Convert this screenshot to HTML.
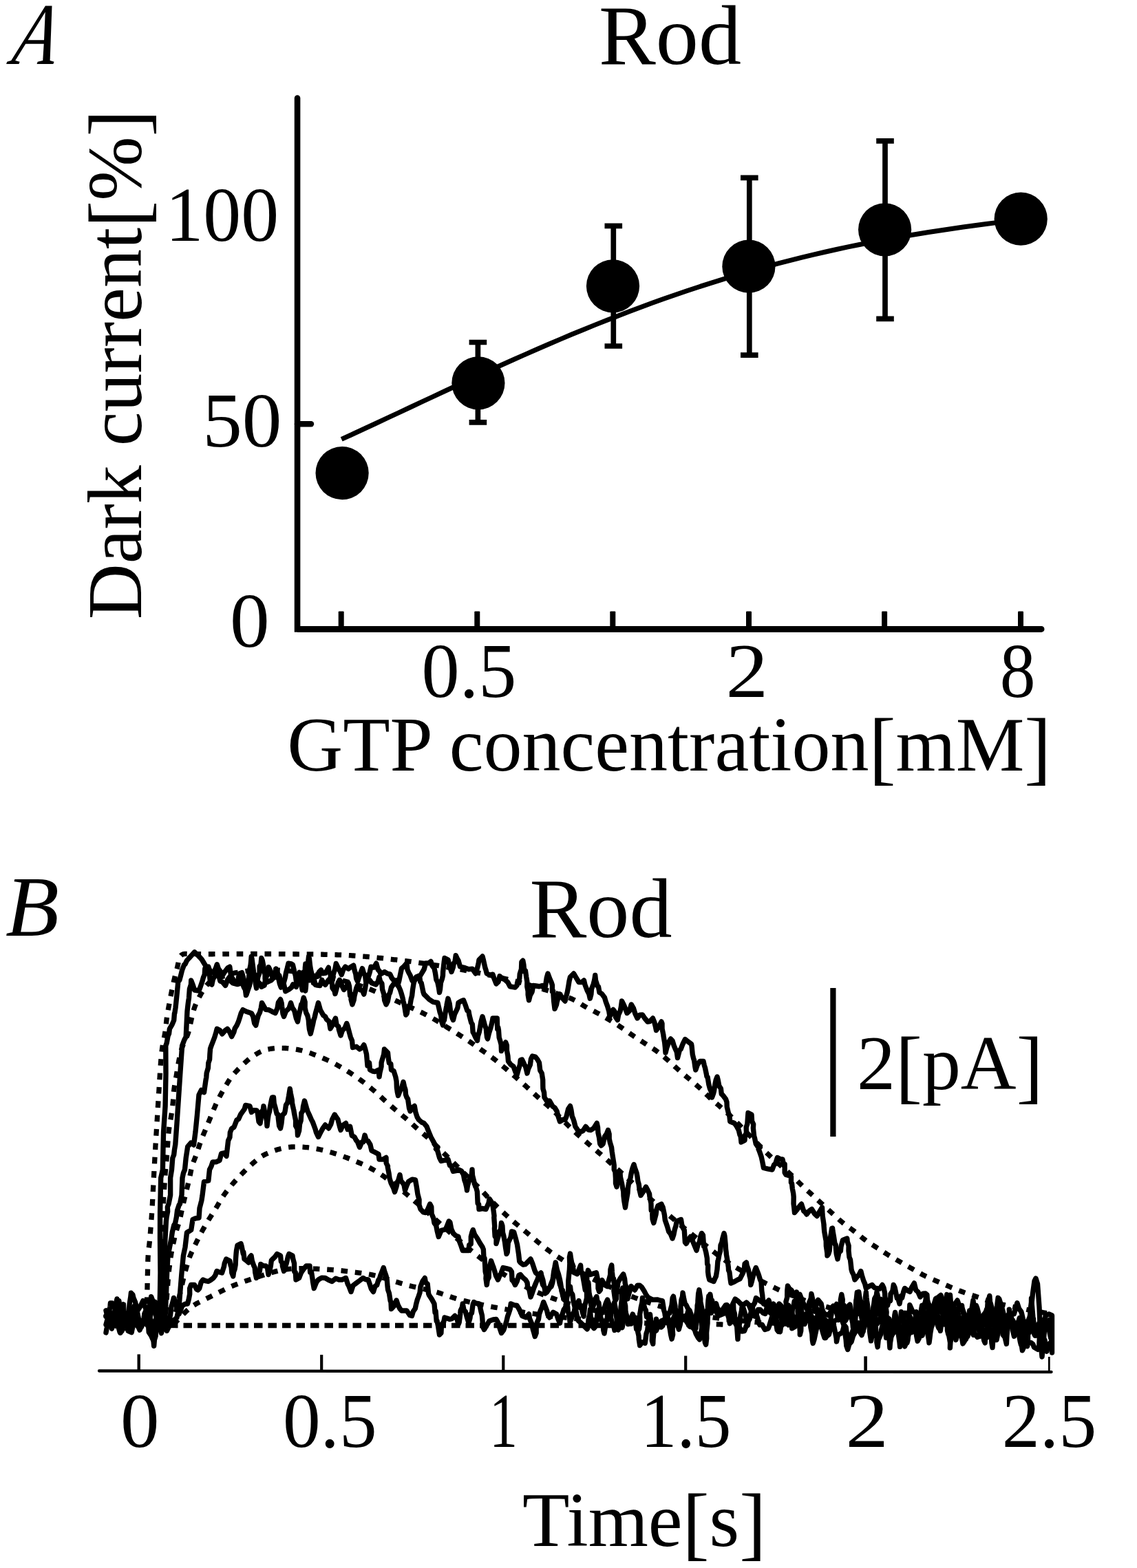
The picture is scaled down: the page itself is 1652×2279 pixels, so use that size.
<!DOCTYPE html>
<html lang="en"><head><meta charset="utf-8"><title>Rod dark current and light responses</title>
<style>html,body{margin:0;padding:0;background:#fff}body{width:1652px;height:2279px;overflow:hidden}svg{display:block}</style>
</head><body>
<svg width="1652" height="2279" viewBox="0 0 1652 2279" role="img" aria-label="Rod dark current versus GTP concentration, and rod flash responses over time">
<rect width="1652" height="2279" fill="#fff"/>
<g id="panelA" stroke="#000" fill="none">
<path d="M432.05 142.5 V914.4 H1513.2" stroke-width="8.6" stroke-linecap="round" stroke-linejoin="miter"/>
<line x1="432" y1="914.4" x2="1513.5" y2="914.4" stroke-width="9"/>
<line x1="432" y1="616.2" x2="452" y2="616.2" stroke-width="8.4" stroke-linecap="round"/>
<path d="M491.7 914 V889.6 Q491.7 888.4 492.9 888.4 H498.5 Q499.7 888.4 499.7 889.6 V914 Z" fill="#000" stroke="none"/>
<path d="M689.3 914 V889.6 Q689.3 888.4 690.5 888.4 H696.0999999999999 Q697.3 888.4 697.3 889.6 V914 Z" fill="#000" stroke="none"/>
<path d="M886.3 914 V889.6 Q886.3 888.4 887.5 888.4 H893.0999999999999 Q894.3 888.4 894.3 889.6 V914 Z" fill="#000" stroke="none"/>
<path d="M1084 914 V889.6 Q1084 888.4 1085.2 888.4 H1090.8 Q1092 888.4 1092 889.6 V914 Z" fill="#000" stroke="none"/>
<path d="M1281.1 914 V889.6 Q1281.1 888.4 1282.3 888.4 H1287.8999999999999 Q1289.1 888.4 1289.1 889.6 V914 Z" fill="#000" stroke="none"/>
<path d="M1479 914 V889.6 Q1479 888.4 1480.2 888.4 H1485.8 Q1487 888.4 1487 889.6 V914 Z" fill="#000" stroke="none"/>
<path d="M496.2 638.44 L512.93 630.77 L529.65 623.04 L546.38 615.26 L563.1 607.45 L579.83 599.62 L596.55 591.77 L613.28 583.92 L630 576.08 L646.73 568.26 L663.45 560.47 L680.18 552.72 L696.91 545.02 L713.63 537.37 L730.36 529.79 L747.08 522.29 L763.81 514.86 L780.53 507.52 L797.26 500.28 L813.98 493.14 L830.71 486.1 L847.43 479.18 L864.16 472.38 L880.88 465.7 L897.61 459.15 L914.34 452.73 L931.06 446.45 L947.79 440.31 L964.51 434.31 L981.24 428.46 L997.96 422.75 L1014.69 417.2 L1031.41 411.8 L1048.14 406.55 L1064.86 401.45 L1081.59 396.51 L1098.32 391.73 L1115.04 387.1 L1131.77 382.62 L1148.49 378.3 L1165.22 374.12 L1181.94 370.1 L1198.67 366.23 L1215.39 362.5 L1232.12 358.92 L1248.84 355.47 L1265.57 352.16 L1282.29 348.98 L1299.02 345.94 L1315.75 343.01 L1332.47 340.2 L1349.2 337.51 L1365.92 334.92 L1382.65 332.43 L1399.37 330.04 L1416.1 327.74 L1432.82 325.51 L1449.55 323.36 L1466.27 321.27 L1483 319.24" stroke-width="7" stroke-linejoin="round"/>
<path d="M694.4 497.5 V613.9 M681.6 497.5 H707.1999999999999 M681.6 613.9 H707.1999999999999" stroke-width="7.7" stroke-linejoin="round"/>
<path d="M891.3 328.4 V503 M878.5 328.4 H904.0999999999999 M878.5 503 H904.0999999999999" stroke-width="7.7" stroke-linejoin="round"/>
<path d="M1088.8 258.3 V516.2 M1076.0 258.3 H1101.6 M1076.0 516.2 H1101.6" stroke-width="7.7" stroke-linejoin="round"/>
<path d="M1286 204.8 V463.3 M1273.2 204.8 H1298.8 M1273.2 463.3 H1298.8" stroke-width="7.7" stroke-linejoin="round"/>
<circle cx="497.1" cy="687.6" r="38.6" fill="#000" stroke="none"/>
<circle cx="694.9" cy="556.8" r="38.6" fill="#000" stroke="none"/>
<circle cx="890.5" cy="415.8" r="38.6" fill="#000" stroke="none"/>
<circle cx="1087.9" cy="387.2" r="38.6" fill="#000" stroke="none"/>
<circle cx="1285.6" cy="333.8" r="38.6" fill="#000" stroke="none"/>
<circle cx="1483.2" cy="318.2" r="38.6" fill="#000" stroke="none"/>
</g>
<g id="panelB" stroke="#000" fill="none">
<line x1="144" y1="1992.5" x2="1527.6" y2="1994.1" stroke-width="4.3" stroke-linecap="round"/>
<line x1="201.7" y1="1968.4" x2="201.7" y2="1993.5" stroke-width="4.4"/>
<line x1="467.2" y1="1969.13" x2="467.2" y2="1993.5" stroke-width="4.2"/>
<line x1="731.3" y1="1969.86" x2="731.3" y2="1993.5" stroke-width="4.2"/>
<line x1="996.2" y1="1970.59" x2="996.2" y2="1993.5" stroke-width="4.2"/>
<line x1="1257.6" y1="1971.31" x2="1257.6" y2="1993.5" stroke-width="4.6"/>
<line x1="1524.3" y1="1972.04" x2="1524.3" y2="1993.5" stroke-width="2.8"/>
<line x1="1210.4" y1="1436" x2="1210.4" y2="1652" stroke-width="8.2" stroke-linecap="butt"/>
<g id="fits" stroke-width="7.3" stroke-dasharray="9.6 10.8" stroke-linejoin="round">
<path d="M251.74 1924.61 L252.61 1923.91 L253.62 1923.04 L254.77 1922 L256.08 1920.79 L257.53 1919.42 L258.96 1918.02 L260.35 1916.59 L261.72 1915.13 L263.07 1913.65 L264.42 1912.16 L265.79 1910.7 L267.18 1909.26 L268.59 1907.84 L270.02 1906.44 L271.47 1905.06 L272.94 1903.7 L274.45 1902.38 L276 1901.12 L277.58 1899.91 L279.2 1898.75 L280.84 1897.63 L282.52 1896.56 L284.23 1895.53 L285.97 1894.56 L287.74 1893.63 L289.54 1892.73 L291.33 1891.83 L293.13 1890.94 L294.92 1890.04 L296.72 1889.14 L298.51 1888.24 L300.3 1887.35 L302.1 1886.45 L303.89 1885.55 L305.69 1884.66 L307.48 1883.76 L309.28 1882.86 L311.07 1881.96 L312.87 1881.07 L314.66 1880.17 L316.45 1879.27 L318.25 1878.38 L320.04 1877.48 L321.84 1876.58 L323.63 1875.68 L325.43 1874.79 L327.22 1873.89 L329.02 1873.01 L330.83 1872.15 L332.65 1871.31 L334.48 1870.49 L336.32 1869.69 L338.16 1868.91 L340.02 1868.16 L341.89 1867.43 L343.76 1866.71 L345.64 1866.01 L347.52 1865.31 L349.4 1864.61 L351.28 1863.92 L353.17 1863.24 L355.06 1862.57 L356.95 1861.9 L358.85 1861.24 L360.74 1860.59 L362.64 1859.95 L364.55 1859.32 L366.45 1858.68 L368.35 1858.05 L370.26 1857.41 L372.16 1856.78 L374.06 1856.15 L375.97 1855.51 L377.87 1854.88 L379.77 1854.24 L381.68 1853.61 L383.58 1852.97 L385.48 1852.34 L387.39 1851.73 L389.31 1851.13 L391.23 1850.55 L393.15 1849.99 L395.08 1849.44 L397.01 1848.91 L398.95 1848.4 L400.89 1847.9 L402.84 1847.41 L404.79 1846.93 L406.74 1846.48 L408.7 1846.07 L410.66 1845.7 L412.63 1845.36 L414.61 1845.06 L416.59 1844.79 L418.58 1844.57 L420.57 1844.38 L422.57 1844.23 L424.58 1844.08 L426.58 1843.95 L428.58 1843.84 L430.58 1843.75 L432.58 1843.68 L434.59 1843.63 L436.59 1843.6 L438.6 1843.59 L440.6 1843.6 L442.61 1843.63 L444.61 1843.65 L446.62 1843.69 L448.62 1843.74 L450.63 1843.8 L452.63 1843.87 L454.64 1843.95 L456.64 1844.04 L458.64 1844.14 L460.65 1844.26 L462.65 1844.38 L464.65 1844.51 L466.65 1844.63 L468.65 1844.76 L470.66 1844.88 L472.66 1845.01 L474.66 1845.14 L476.66 1845.26 L478.67 1845.39 L480.67 1845.51 L482.67 1845.64 L484.67 1845.76 L486.67 1845.9 L488.67 1846.06 L490.67 1846.22 L492.67 1846.41 L494.66 1846.6 L496.66 1846.81 L498.65 1847.03 L500.64 1847.27 L502.63 1847.52 L504.62 1847.77 L506.62 1848.01 L508.61 1848.26 L510.6 1848.51 L512.59 1848.76 L514.58 1849.01 L516.57 1849.26 L518.56 1849.51 L520.55 1849.76 L522.54 1850.01 L524.53 1850.25 L526.52 1850.52 L528.5 1850.81 L530.48 1851.11 L532.46 1851.44 L534.44 1851.78 L536.41 1852.15 L538.38 1852.53 L540.34 1852.93 L542.3 1853.35 L544.26 1853.79 L546.21 1854.26 L548.15 1854.74 L550.09 1855.25 L552.02 1855.78 L553.95 1856.33 L555.87 1856.9 L557.79 1857.49 L559.7 1858.1 L561.61 1858.71 L563.52 1859.32 L565.43 1859.93 L567.35 1860.53 L569.26 1861.13 L571.18 1861.73 L573.09 1862.32 L575.01 1862.91 L576.93 1863.49 L578.85 1864.07 L580.77 1864.64 L582.7 1865.21 L584.62 1865.77 L586.55 1866.34 L588.47 1866.89 L590.41 1867.44 L592.34 1867.96 L594.28 1868.48 L596.22 1868.98 L598.16 1869.47 L600.11 1869.94 L602.07 1870.4 L604.02 1870.84 L605.98 1871.29 L607.94 1871.73 L609.89 1872.17 L611.85 1872.61 L613.81 1873.05 L615.76 1873.49 L617.72 1873.94 L619.68 1874.38 L621.63 1874.82 L623.59 1875.26 L625.55 1875.7 L627.5 1876.17 L629.44 1876.66 L631.37 1877.18 L633.3 1877.72 L635.22 1878.29 L637.13 1878.89 L639.04 1879.51 L640.94 1880.16 L642.83 1880.83 L644.72 1881.5 L646.61 1882.16 L648.51 1882.81 L650.41 1883.46 L652.31 1884.09 L654.22 1884.72 L656.12 1885.34 L658.03 1885.95 L659.95 1886.55 L661.86 1887.14 L663.78 1887.74 L665.7 1888.31 L667.63 1888.87 L669.56 1889.41 L671.49 1889.93 L673.43 1890.43 L675.38 1890.91 L677.33 1891.37 L679.29 1891.81 L681.25 1892.24 L683.21 1892.67 L685.17 1893.1 L687.13 1893.53 L689.09 1893.96 L691.05 1894.38 L693.01 1894.81 L694.97 1895.24 L696.93 1895.67 L698.88 1896.1 L700.84 1896.53 L702.8 1896.96 L704.77 1897.38 L706.73 1897.79 L708.69 1898.19 L710.66 1898.59 L712.63 1898.98 L714.6 1899.35 L716.57 1899.72 L718.54 1900.08 L720.52 1900.43 L722.49 1900.78 L724.47 1901.13 L726.45 1901.48 L728.42 1901.82 L730.4 1902.17 L732.37 1902.52 L734.35 1902.87 L736.32 1903.22 L738.3 1903.57 L740.27 1903.92 L742.25 1904.26 L744.23 1904.61 L746.2 1904.96 L748.18 1905.3 L750.16 1905.63 L752.14 1905.96 L754.12 1906.28 L756.1 1906.59 L758.08 1906.9 L760.06 1907.2 L762.05 1907.49 L764.03 1907.78 L766.02 1908.07 L768 1908.36 L769.99 1908.64 L771.98 1908.93 L773.96 1909.22 L775.95 1909.51 L777.93 1909.8 L779.92 1910.08 L781.9 1910.37 L783.89 1910.66 L785.87 1910.95 L787.86 1911.24 L789.84 1911.53 L791.83 1911.81 L793.81 1912.09 L795.8 1912.36 L797.79 1912.62 L799.78 1912.87 L801.77 1913.11 L803.76 1913.34 L805.76 1913.56 L807.75 1913.77 L809.75 1913.97 L811.75 1914.17 L813.74 1914.37 L815.74 1914.57 L817.73 1914.77 L819.73 1914.97 L821.73 1915.17 L823.72 1915.37 L825.72 1915.57 L827.72 1915.77 L829.71 1915.97 L831.71 1916.17 L833.7 1916.37 L835.7 1916.57 L837.7 1916.77 L839.69 1916.97 L841.69 1917.17 L843.68 1917.36 L845.68 1917.55 L847.68 1917.73 L849.68 1917.91 L851.68 1918.07 L853.68 1918.23 L855.68 1918.39 L857.68 1918.54 L859.68 1918.68 L861.68 1918.82 L863.68 1918.96 L865.68 1919.1 L867.68 1919.24 L869.68 1919.38 L871.69 1919.52 L873.69 1919.66 L875.69 1919.8 L877.69 1919.94 L879.69 1920.08 L881.69 1920.22 L883.69 1920.36 L885.69 1920.5 L887.7 1920.64 L889.7 1920.78 L891.7 1920.92 L893.7 1921.05 L895.7 1921.18 L897.7 1921.3 L899.71 1921.42 L901.71 1921.53 L903.71 1921.63 L905.72 1921.73 L907.72 1921.82 L909.72 1921.91 L911.73 1921.99 L913.73 1922.07 L915.74 1922.16 L917.74 1922.24 L919.75 1922.32 L921.75 1922.41 L923.76 1922.49 L925.76 1922.57 L927.76 1922.66 L929.77 1922.74 L931.77 1922.82 L933.78 1922.91 L935.78 1922.99 L937.79 1923.07 L939.79 1923.16 L941.8 1923.24 L943.8 1923.32 L945.8 1923.41 L947.81 1923.49 L949.81 1923.58 L951.82 1923.66 L953.82 1923.74 L955.83 1923.82 L957.83 1923.89 L959.84 1923.96 L961.84 1924.02 L963.85 1924.08 L965.85 1924.14 L967.86 1924.2 L969.86 1924.25 L971.87 1924.3 L973.87 1924.35 L975.88 1924.4 L977.88 1924.45 L979.89 1924.5 L981.9 1924.55 L983.9 1924.6 L985.91 1924.65 L987.91 1924.7 L989.92 1924.75 L991.92 1924.8 L993.93 1924.85 L995.93 1924.9 L997.94 1924.95 L999.94 1925 L1001.95 1925.05 L1003.96 1925.1 L1005.96 1925.15 L1007.97 1925.2 L1009.97 1925.25 L1011.98 1925.3 L1013.76 1925.34 L1015.32 1925.38 L1016.66 1925.42 L1017.77 1925.44" stroke-dashoffset="0"/>
<path d="M250.61 1923.86 L250.92 1922.79 L251.29 1921.5 L251.71 1920 L252.2 1918.29 L252.76 1916.36 L253.31 1914.43 L253.86 1912.5 L254.39 1910.57 L254.92 1908.63 L255.43 1906.69 L255.93 1904.75 L256.41 1902.81 L256.88 1900.86 L257.34 1898.91 L257.79 1896.95 L258.22 1894.99 L258.66 1893.03 L259.09 1891.08 L259.53 1889.12 L259.96 1887.16 L260.4 1885.2 L260.84 1883.25 L261.28 1881.29 L261.72 1879.33 L262.16 1877.38 L262.6 1875.42 L263.05 1873.46 L263.5 1871.51 L263.95 1869.55 L264.4 1867.6 L264.85 1865.65 L265.3 1863.69 L265.75 1861.74 L266.2 1859.78 L266.67 1857.83 L267.14 1855.88 L267.62 1853.94 L268.12 1851.99 L268.63 1850.05 L269.14 1848.12 L269.67 1846.18 L270.21 1844.25 L270.76 1842.32 L271.32 1840.39 L271.87 1838.47 L272.42 1836.54 L272.98 1834.61 L273.57 1832.7 L274.2 1830.8 L274.86 1828.91 L275.55 1827.04 L276.28 1825.17 L277.04 1823.32 L277.83 1821.49 L278.66 1819.66 L279.51 1817.84 L280.36 1816.02 L281.21 1814.21 L282.07 1812.4 L282.93 1810.59 L283.8 1808.78 L284.68 1806.98 L285.56 1805.17 L286.44 1803.37 L287.34 1801.58 L288.23 1799.78 L289.13 1797.99 L290.04 1796.2 L290.96 1794.42 L291.9 1792.65 L292.84 1790.88 L293.79 1789.12 L294.76 1787.36 L295.74 1785.61 L296.72 1783.86 L297.72 1782.12 L298.71 1780.38 L299.72 1778.65 L300.74 1776.92 L301.77 1775.19 L302.8 1773.48 L303.85 1771.77 L304.91 1770.06 L305.97 1768.37 L307.05 1766.67 L308.13 1764.99 L309.22 1763.3 L310.29 1761.61 L311.36 1759.91 L312.42 1758.21 L313.46 1756.5 L314.5 1754.78 L315.53 1753.06 L316.54 1751.33 L317.55 1749.59 L318.55 1747.85 L319.54 1746.11 L320.56 1744.38 L321.6 1742.67 L322.66 1740.98 L323.75 1739.3 L324.87 1737.64 L326.01 1735.99 L327.18 1734.37 L328.37 1732.76 L329.59 1731.16 L330.81 1729.57 L332.04 1727.99 L333.29 1726.42 L334.55 1724.86 L335.82 1723.32 L337.11 1721.78 L338.42 1720.26 L339.74 1718.75 L341.07 1717.26 L342.42 1715.77 L343.77 1714.29 L345.13 1712.82 L346.5 1711.35 L347.87 1709.89 L349.25 1708.43 L350.63 1706.98 L352.03 1705.54 L353.43 1704.1 L354.83 1702.67 L356.25 1701.25 L357.67 1699.83 L359.09 1698.42 L360.53 1697.03 L361.99 1695.65 L363.45 1694.28 L364.93 1692.93 L366.42 1691.59 L367.92 1690.26 L369.44 1688.95 L370.96 1687.65 L372.49 1686.35 L374.03 1685.06 L375.6 1683.83 L377.2 1682.65 L378.84 1681.53 L380.52 1680.47 L382.23 1679.46 L383.97 1678.51 L385.75 1677.62 L387.56 1676.79 L389.41 1676 L391.26 1675.22 L393.1 1674.44 L394.96 1673.7 L396.84 1672.99 L398.72 1672.31 L400.61 1671.67 L402.52 1671.06 L404.43 1670.48 L406.36 1669.94 L408.3 1669.43 L410.25 1668.98 L412.21 1668.58 L414.17 1668.21 L416.14 1667.89 L418.12 1667.61 L420.1 1667.36 L422.09 1667.16 L424.09 1667 L426.09 1666.9 L428.09 1666.85 L430.09 1666.82 L432.09 1666.83 L434.09 1666.86 L436.09 1666.94 L438.09 1667.04 L440.09 1667.17 L442.09 1667.34 L444.09 1667.53 L446.08 1667.74 L448.07 1667.97 L450.06 1668.21 L452.04 1668.48 L454.03 1668.77 L456.01 1669.08 L457.98 1669.41 L459.96 1669.77 L461.93 1670.15 L463.89 1670.54 L465.85 1670.97 L467.8 1671.41 L469.75 1671.87 L471.7 1672.35 L473.64 1672.86 L475.57 1673.38 L477.5 1673.92 L479.43 1674.47 L481.36 1675.03 L483.28 1675.61 L485.19 1676.2 L487.11 1676.8 L489.01 1677.41 L490.92 1678.04 L492.82 1678.68 L494.72 1679.33 L496.61 1679.99 L498.5 1680.67 L500.38 1681.36 L502.26 1682.06 L504.13 1682.77 L506 1683.5 L507.86 1684.24 L509.72 1684.99 L511.58 1685.76 L513.43 1686.53 L515.28 1687.3 L517.13 1688.08 L518.98 1688.86 L520.82 1689.64 L522.67 1690.42 L524.52 1691.21 L526.35 1692.01 L528.18 1692.83 L530 1693.67 L531.81 1694.54 L533.6 1695.42 L535.39 1696.33 L537.16 1697.26 L538.92 1698.22 L540.68 1699.19 L542.42 1700.17 L544.17 1701.16 L545.9 1702.17 L547.62 1703.2 L549.33 1704.25 L551.02 1705.32 L552.69 1706.41 L554.36 1707.53 L556.01 1708.67 L557.64 1709.83 L559.26 1711.01 L560.88 1712.19 L562.51 1713.37 L564.13 1714.55 L565.75 1715.73 L567.37 1716.91 L568.98 1718.11 L570.58 1719.32 L572.17 1720.54 L573.75 1721.76 L575.33 1723 L576.9 1724.25 L578.46 1725.52 L580.01 1726.79 L581.55 1728.07 L583.1 1729.34 L584.65 1730.62 L586.19 1731.9 L587.74 1733.18 L589.28 1734.45 L590.83 1735.73 L592.37 1737.02 L593.9 1738.31 L595.43 1739.6 L596.96 1740.9 L598.49 1742.21 L600 1743.52 L601.52 1744.83 L603.03 1746.15 L604.54 1747.47 L606.05 1748.79 L607.56 1750.11 L609.07 1751.43 L610.58 1752.76 L612.09 1754.08 L613.6 1755.4 L615.1 1756.72 L616.61 1758.04 L618.11 1759.37 L619.62 1760.7 L621.11 1762.03 L622.61 1763.37 L624.11 1764.7 L625.6 1766.04 L627.09 1767.38 L628.58 1768.73 L630.07 1770.07 L631.57 1771.41 L633.06 1772.75 L634.55 1774.09 L636.04 1775.43 L637.53 1776.78 L639.02 1778.12 L640.51 1779.46 L642 1780.8 L643.49 1782.14 L644.98 1783.48 L646.48 1784.82 L647.98 1786.15 L649.48 1787.48 L650.98 1788.81 L652.49 1790.13 L654 1791.46 L655.51 1792.77 L657.02 1794.09 L658.54 1795.4 L660.06 1796.72 L661.57 1798.03 L663.09 1799.34 L664.6 1800.66 L666.12 1801.97 L667.63 1803.28 L669.15 1804.6 L670.67 1805.91 L672.18 1807.22 L673.7 1808.54 L675.22 1809.85 L676.74 1811.15 L678.28 1812.44 L679.81 1813.73 L681.36 1815.01 L682.9 1816.28 L684.46 1817.55 L686.02 1818.81 L687.58 1820.07 L689.15 1821.32 L690.72 1822.57 L692.28 1823.83 L693.85 1825.08 L695.42 1826.32 L697 1827.56 L698.59 1828.78 L700.18 1830 L701.78 1831.2 L703.39 1832.4 L705.01 1833.59 L706.63 1834.77 L708.26 1835.94 L709.88 1837.12 L711.51 1838.29 L713.14 1839.46 L714.77 1840.63 L716.39 1841.8 L718.02 1842.98 L719.66 1844.14 L721.3 1845.28 L722.96 1846.41 L724.62 1847.53 L726.3 1848.62 L727.99 1849.71 L729.68 1850.78 L731.39 1851.83 L733.11 1852.86 L734.83 1853.9 L736.55 1854.93 L738.27 1855.96 L739.99 1856.99 L741.71 1858.02 L743.43 1859.05 L745.15 1860.07 L746.89 1861.08 L748.63 1862.07 L750.38 1863.05 L752.13 1864.02 L753.89 1864.98 L755.66 1865.93 L757.43 1866.87 L759.21 1867.79 L760.99 1868.72 L762.77 1869.64 L764.55 1870.57 L766.33 1871.49 L768.11 1872.42 L769.9 1873.32 L771.7 1874.2 L773.51 1875.06 L775.33 1875.91 L777.15 1876.73 L778.99 1877.53 L780.83 1878.31 L782.69 1879.08 L784.55 1879.82 L786.41 1880.57 L788.28 1881.31 L790.14 1882.06 L792 1882.8 L793.87 1883.54 L795.74 1884.26 L797.61 1884.97 L799.49 1885.67 L801.37 1886.36 L803.26 1887.03 L805.15 1887.7 L807.05 1888.35 L808.95 1888.98 L810.85 1889.62 L812.76 1890.25 L814.66 1890.89 L816.56 1891.52 L818.47 1892.16 L820.37 1892.79 L822.27 1893.42 L824.18 1894.05 L826.09 1894.65 L828 1895.25 L829.92 1895.83 L831.84 1896.4 L833.77 1896.96 L835.7 1897.5 L837.63 1898.03 L839.57 1898.55 L841.51 1899.07 L843.45 1899.59 L845.38 1900.1 L847.32 1900.62 L849.26 1901.14 L851.2 1901.65 L853.14 1902.16 L855.08 1902.66 L857.03 1903.14 L858.98 1903.61 L860.93 1904.07 L862.88 1904.51 L864.84 1904.94 L866.8 1905.35 L868.77 1905.75 L870.74 1906.15 L872.7 1906.54 L874.67 1906.93 L876.64 1907.33 L878.6 1907.72 L880.57 1908.11 L882.54 1908.51 L884.5 1908.9 L886.47 1909.29 L888.44 1909.69 L890.4 1910.08 L892.37 1910.47 L894.34 1910.85 L896.31 1911.22 L898.28 1911.57 L900.26 1911.91 L902.24 1912.24 L904.22 1912.55 L906.2 1912.86 L908.18 1913.15 L910.17 1913.42 L912.16 1913.7 L914.14 1913.98 L916.13 1914.26 L918.12 1914.54 L920.1 1914.81 L922.09 1915.09 L924.08 1915.37 L926.06 1915.65 L928.05 1915.93 L930.03 1916.2 L932.02 1916.48 L934.01 1916.76 L935.99 1917.04 L937.98 1917.32 L939.97 1917.6 L941.95 1917.87 L943.94 1918.14 L945.93 1918.39 L947.92 1918.63 L949.91 1918.86 L951.91 1919.07 L953.9 1919.27 L955.9 1919.46 L957.89 1919.63 L959.89 1919.79 L961.89 1919.95 L963.89 1920.11 L965.89 1920.27 L967.89 1920.43 L969.89 1920.59 L971.89 1920.75 L973.89 1920.91 L975.89 1921.07 L977.89 1921.23 L979.89 1921.39 L981.89 1921.55 L983.89 1921.71 L985.89 1921.87 L987.88 1922.03 L989.88 1922.19 L991.88 1922.35 L993.88 1922.5 L995.88 1922.65 L997.88 1922.78 L999.89 1922.91 L1001.89 1923.03 L1003.89 1923.14 L1005.89 1923.24 L1007.9 1923.33 L1009.9 1923.41 L1011.9 1923.5 L1013.91 1923.58 L1015.91 1923.66 L1017.92 1923.75 L1019.92 1923.83 L1021.92 1923.91 L1023.93 1924 L1025.93 1924.08 L1027.94 1924.16 L1029.94 1924.25 L1031.94 1924.33 L1033.95 1924.41 L1035.95 1924.5 L1037.96 1924.58 L1039.96 1924.67 L1041.96 1924.75 L1043.97 1924.83 L1045.97 1924.92 L1047.98 1925 L1049.98 1925.08 L1051.98 1925.17 L1053.77 1925.24 L1055.32 1925.31 L1056.66 1925.36 L1057.77 1925.41" stroke-dashoffset="3"/>
<path d="M240.12 1923.77 L240.19 1922.66 L240.26 1921.33 L240.35 1919.77 L240.45 1917.99 L240.56 1915.99 L240.67 1913.98 L240.78 1911.98 L240.89 1909.98 L241 1907.98 L241.11 1905.97 L241.22 1903.97 L241.34 1901.97 L241.45 1899.97 L241.56 1897.96 L241.67 1895.96 L241.79 1893.96 L241.92 1891.96 L242.05 1889.95 L242.18 1887.95 L242.32 1885.95 L242.46 1883.95 L242.6 1881.95 L242.75 1879.95 L242.9 1877.95 L243.05 1875.95 L243.2 1873.95 L243.35 1871.95 L243.5 1869.95 L243.65 1867.95 L243.8 1865.95 L243.95 1863.95 L244.1 1861.95 L244.25 1859.95 L244.4 1857.95 L244.57 1855.95 L244.74 1853.95 L244.93 1851.96 L245.13 1849.96 L245.35 1847.97 L245.57 1845.98 L245.81 1843.99 L246.07 1842 L246.33 1840.01 L246.6 1838.02 L246.86 1836.03 L247.13 1834.04 L247.39 1832.06 L247.66 1830.07 L247.92 1828.08 L248.21 1826.09 L248.51 1824.11 L248.82 1822.13 L249.16 1820.16 L249.52 1818.19 L249.89 1816.22 L250.28 1814.25 L250.7 1812.29 L251.13 1810.33 L251.56 1808.37 L251.99 1806.41 L252.42 1804.45 L252.85 1802.49 L253.28 1800.53 L253.73 1798.58 L254.2 1796.63 L254.69 1794.69 L255.2 1792.75 L255.73 1790.82 L256.28 1788.89 L256.85 1786.97 L257.45 1785.06 L258.06 1783.15 L258.67 1781.24 L259.27 1779.32 L259.84 1777.4 L260.39 1775.48 L260.92 1773.55 L261.43 1771.61 L261.91 1769.66 L262.37 1767.71 L262.8 1765.76 L263.21 1763.79 L263.62 1761.83 L264.03 1759.87 L264.44 1757.9 L264.87 1755.94 L265.3 1753.99 L265.74 1752.03 L266.19 1750.07 L266.64 1748.12 L267.1 1746.17 L267.57 1744.22 L268.03 1742.27 L268.5 1740.32 L268.97 1738.37 L269.44 1736.42 L269.91 1734.47 L270.39 1732.52 L270.87 1730.57 L271.35 1728.62 L271.83 1726.68 L272.32 1724.73 L272.8 1722.78 L273.29 1720.84 L273.76 1718.89 L274.22 1716.94 L274.67 1714.98 L275.11 1713.03 L275.54 1711.07 L275.96 1709.11 L276.37 1707.14 L276.76 1705.18 L277.16 1703.21 L277.56 1701.25 L278.01 1699.3 L278.49 1697.36 L279.01 1695.43 L279.57 1693.51 L280.17 1691.6 L280.8 1689.71 L281.48 1687.82 L282.19 1685.95 L282.93 1684.09 L283.66 1682.22 L284.37 1680.34 L285.06 1678.46 L285.75 1676.58 L286.41 1674.69 L287.07 1672.79 L287.71 1670.89 L288.33 1668.99 L288.94 1667.08 L289.55 1665.17 L290.18 1663.26 L290.83 1661.36 L291.49 1659.47 L292.17 1657.59 L292.87 1655.71 L293.6 1653.84 L294.34 1651.98 L295.09 1650.12 L295.87 1648.28 L296.65 1646.43 L297.43 1644.58 L298.21 1642.73 L298.98 1640.88 L299.75 1639.03 L300.51 1637.17 L301.27 1635.31 L302.02 1633.46 L302.77 1631.6 L303.52 1629.73 L304.26 1627.87 L305.01 1626.01 L305.75 1624.15 L306.51 1622.29 L307.26 1620.43 L308.02 1618.57 L308.79 1616.72 L309.56 1614.87 L310.33 1613.02 L311.11 1611.17 L311.89 1609.32 L312.67 1607.47 L313.47 1605.63 L314.28 1603.8 L315.12 1601.98 L315.98 1600.17 L316.86 1598.37 L317.76 1596.58 L318.68 1594.8 L319.62 1593.03 L320.58 1591.27 L321.54 1589.51 L322.51 1587.76 L323.49 1586.01 L324.48 1584.26 L325.47 1582.52 L326.48 1580.78 L327.49 1579.05 L328.51 1577.33 L329.54 1575.61 L330.58 1573.89 L331.62 1572.18 L332.69 1570.49 L333.8 1568.82 L334.94 1567.18 L336.12 1565.57 L337.33 1563.99 L338.58 1562.43 L339.86 1560.89 L341.18 1559.38 L342.53 1557.9 L343.89 1556.43 L345.25 1554.96 L346.64 1553.51 L348.04 1552.07 L349.45 1550.65 L350.88 1549.25 L352.32 1547.86 L353.78 1546.48 L355.25 1545.12 L356.74 1543.78 L358.23 1542.44 L359.73 1541.1 L361.25 1539.81 L362.81 1538.56 L364.39 1537.34 L366 1536.16 L367.64 1535.02 L369.3 1533.93 L371 1532.86 L372.72 1531.84 L374.46 1530.85 L376.21 1529.87 L377.98 1528.96 L379.78 1528.13 L381.61 1527.38 L383.46 1526.7 L385.34 1526.1 L387.24 1525.57 L389.18 1525.12 L391.14 1524.75 L393.12 1524.44 L395.1 1524.15 L397.09 1523.9 L399.07 1523.69 L401.06 1523.52 L403.06 1523.4 L405.05 1523.31 L407.05 1523.27 L409.05 1523.28 L411.05 1523.32 L413.06 1523.4 L415.06 1523.48 L417.06 1523.6 L419.06 1523.75 L421.05 1523.93 L423.04 1524.15 L425.02 1524.39 L427 1524.68 L428.98 1524.99 L430.96 1525.34 L432.93 1525.7 L434.9 1526.08 L436.86 1526.49 L438.81 1526.94 L440.74 1527.43 L442.67 1527.95 L444.59 1528.51 L446.5 1529.11 L448.4 1529.75 L450.28 1530.42 L452.16 1531.12 L454.04 1531.83 L455.91 1532.54 L457.79 1533.26 L459.65 1533.99 L461.51 1534.73 L463.37 1535.49 L465.23 1536.25 L467.07 1537.03 L468.92 1537.82 L470.76 1538.61 L472.6 1539.42 L474.43 1540.22 L476.27 1541.04 L478.09 1541.88 L479.9 1542.74 L481.69 1543.62 L483.48 1544.52 L485.26 1545.44 L487.03 1546.39 L488.78 1547.35 L490.53 1548.34 L492.27 1549.33 L494.01 1550.33 L495.74 1551.34 L497.47 1552.37 L499.19 1553.4 L500.9 1554.44 L502.61 1555.49 L504.31 1556.55 L506.01 1557.62 L507.7 1558.7 L509.38 1559.78 L511.07 1560.87 L512.75 1561.97 L514.41 1563.08 L516.07 1564.21 L517.72 1565.35 L519.36 1566.5 L520.99 1567.67 L522.61 1568.85 L524.22 1570.04 L525.83 1571.25 L527.43 1572.46 L529.02 1573.68 L530.6 1574.91 L532.18 1576.14 L533.75 1577.39 L535.31 1578.65 L536.87 1579.91 L538.42 1581.18 L539.96 1582.47 L541.5 1583.75 L543.03 1585.05 L544.55 1586.35 L546.07 1587.67 L547.57 1588.99 L549.07 1590.32 L550.56 1591.67 L552.04 1593.02 L553.51 1594.38 L554.97 1595.76 L556.44 1597.13 L557.9 1598.5 L559.37 1599.86 L560.86 1601.21 L562.35 1602.55 L563.85 1603.88 L565.35 1605.2 L566.87 1606.51 L568.4 1607.82 L569.93 1609.11 L571.47 1610.39 L573.01 1611.68 L574.55 1612.96 L576.09 1614.24 L577.63 1615.53 L579.17 1616.81 L580.72 1618.1 L582.26 1619.38 L583.8 1620.66 L585.34 1621.95 L586.88 1623.23 L588.41 1624.52 L589.94 1625.82 L591.47 1627.13 L592.98 1628.44 L594.49 1629.76 L595.99 1631.09 L597.49 1632.43 L598.97 1633.77 L600.45 1635.12 L601.93 1636.48 L603.41 1637.83 L604.9 1639.17 L606.4 1640.51 L607.9 1641.84 L609.41 1643.16 L610.93 1644.47 L612.45 1645.77 L613.99 1647.07 L615.52 1648.35 L617.06 1649.64 L618.59 1650.93 L620.11 1652.24 L621.61 1653.57 L623.1 1654.91 L624.58 1656.27 L626.04 1657.64 L627.49 1659.02 L628.92 1660.43 L630.34 1661.84 L631.76 1663.26 L633.18 1664.67 L634.61 1666.08 L636.03 1667.49 L637.46 1668.9 L638.89 1670.31 L640.33 1671.71 L641.76 1673.11 L643.2 1674.51 L644.64 1675.91 L646.07 1677.31 L647.51 1678.71 L648.95 1680.11 L650.38 1681.51 L651.82 1682.91 L653.25 1684.32 L654.68 1685.72 L656.1 1687.13 L657.53 1688.54 L658.95 1689.96 L660.37 1691.37 L661.79 1692.79 L663.21 1694.21 L664.63 1695.63 L666.05 1697.05 L667.46 1698.46 L668.88 1699.88 L670.3 1701.3 L671.73 1702.71 L673.15 1704.12 L674.58 1705.53 L676.01 1706.94 L677.44 1708.34 L678.88 1709.74 L680.31 1711.14 L681.75 1712.54 L683.2 1713.93 L684.64 1715.33 L686.08 1716.72 L687.52 1718.12 L688.96 1719.51 L690.4 1720.91 L691.84 1722.3 L693.28 1723.7 L694.71 1725.11 L696.12 1726.53 L697.53 1727.96 L698.93 1729.4 L700.31 1730.85 L701.69 1732.3 L703.05 1733.77 L704.41 1735.25 L705.76 1736.73 L707.12 1738.21 L708.48 1739.68 L709.86 1741.14 L711.24 1742.59 L712.63 1744.04 L714.02 1745.48 L715.43 1746.91 L716.84 1748.34 L718.26 1749.76 L719.67 1751.17 L721.1 1752.59 L722.52 1754 L723.96 1755.4 L725.4 1756.79 L726.85 1758.18 L728.31 1759.56 L729.77 1760.93 L731.24 1762.29 L732.71 1763.65 L734.19 1765.01 L735.67 1766.36 L737.16 1767.7 L738.65 1769.04 L740.16 1770.37 L741.67 1771.69 L743.18 1773 L744.7 1774.31 L746.23 1775.6 L747.77 1776.89 L749.31 1778.18 L750.85 1779.46 L752.39 1780.74 L753.93 1782.03 L755.48 1783.31 L757.02 1784.6 L758.56 1785.88 L760.1 1787.16 L761.64 1788.45 L763.18 1789.73 L764.72 1791.02 L766.26 1792.3 L767.8 1793.59 L769.34 1794.88 L770.87 1796.17 L772.41 1797.46 L773.94 1798.75 L775.48 1800.04 L777.01 1801.34 L778.54 1802.63 L780.07 1803.93 L781.61 1805.22 L783.14 1806.5 L784.69 1807.78 L786.24 1809.05 L787.8 1810.31 L789.37 1811.56 L790.94 1812.81 L792.52 1814.04 L794.11 1815.27 L795.7 1816.5 L797.29 1817.72 L798.89 1818.92 L800.51 1820.1 L802.14 1821.27 L803.78 1822.41 L805.44 1823.54 L807.11 1824.64 L808.79 1825.73 L810.49 1826.8 L812.2 1827.85 L813.9 1828.91 L815.6 1829.98 L817.29 1831.05 L818.97 1832.14 L820.65 1833.24 L822.32 1834.34 L823.99 1835.46 L825.65 1836.59 L827.3 1837.73 L828.95 1838.87 L830.6 1840.01 L832.26 1841.14 L833.92 1842.26 L835.58 1843.38 L837.25 1844.49 L838.93 1845.6 L840.6 1846.69 L842.28 1847.79 L843.97 1848.87 L845.66 1849.96 L847.35 1851.04 L849.05 1852.09 L850.77 1853.13 L852.49 1854.14 L854.23 1855.14 L855.98 1856.11 L857.75 1857.06 L859.52 1857.99 L861.31 1858.9 L863.1 1859.8 L864.9 1860.69 L866.7 1861.57 L868.51 1862.43 L870.32 1863.29 L872.14 1864.13 L873.97 1864.96 L875.8 1865.78 L877.63 1866.59 L879.48 1867.38 L881.32 1868.17 L883.16 1868.98 L884.99 1869.79 L886.81 1870.62 L888.64 1871.46 L890.45 1872.31 L892.26 1873.17 L894.07 1874.05 L895.86 1874.93 L897.66 1875.83 L899.46 1876.72 L901.26 1877.59 L903.08 1878.43 L904.9 1879.26 L906.74 1880.06 L908.58 1880.84 L910.44 1881.61 L912.3 1882.35 L914.17 1883.06 L916.05 1883.77 L917.93 1884.47 L919.8 1885.18 L921.68 1885.88 L923.56 1886.58 L925.44 1887.27 L927.33 1887.96 L929.22 1888.63 L931.11 1889.3 L933 1889.96 L934.9 1890.62 L936.8 1891.26 L938.7 1891.9 L940.6 1892.53 L942.5 1893.17 L944.41 1893.8 L946.31 1894.44 L948.21 1895.07 L950.12 1895.71 L952.02 1896.34 L953.92 1896.96 L955.84 1897.56 L957.75 1898.15 L959.67 1898.72 L961.6 1899.28 L963.53 1899.82 L965.47 1900.34 L967.41 1900.85 L969.35 1901.34 L971.3 1901.82 L973.24 1902.31 L975.19 1902.8 L977.13 1903.28 L979.08 1903.77 L981.03 1904.26 L982.97 1904.74 L984.92 1905.23 L986.86 1905.72 L988.81 1906.2 L990.75 1906.69 L992.7 1907.17 L994.65 1907.63 L996.61 1908.08 L998.57 1908.5 L1000.53 1908.91 L1002.49 1909.3 L1004.46 1909.67 L1006.44 1910.02 L1008.42 1910.35 L1010.4 1910.66 L1012.38 1910.98 L1014.36 1911.3 L1016.34 1911.61 L1018.32 1911.93 L1020.3 1912.25 L1022.28 1912.56 L1024.26 1912.88 L1026.24 1913.2 L1028.22 1913.52 L1030.2 1913.83 L1032.18 1914.15 L1034.16 1914.47 L1036.14 1914.78 L1038.12 1915.1 L1040.1 1915.42 L1042.08 1915.73 L1044.07 1916.04 L1046.05 1916.33 L1048.04 1916.61 L1050.02 1916.87 L1052.01 1917.12 L1054 1917.36 L1056 1917.59 L1057.99 1917.8 L1059.99 1918 L1061.98 1918.2 L1063.98 1918.4 L1065.97 1918.6 L1067.97 1918.8 L1069.97 1919 L1071.96 1919.2 L1073.96 1919.4 L1075.95 1919.6 L1077.95 1919.79 L1079.94 1919.99 L1081.94 1920.19 L1083.94 1920.39 L1085.93 1920.59 L1087.93 1920.79 L1089.92 1920.99 L1091.92 1921.19 L1093.92 1921.38 L1095.91 1921.56 L1097.91 1921.73 L1099.91 1921.88 L1101.91 1922.03 L1103.91 1922.16 L1105.91 1922.28 L1107.92 1922.4 L1109.92 1922.5 L1111.92 1922.6 L1113.92 1922.7 L1115.93 1922.8 L1117.93 1922.9 L1119.93 1923 L1121.94 1923.1 L1123.94 1923.2 L1125.94 1923.3 L1127.95 1923.4 L1129.95 1923.5 L1131.95 1923.6 L1133.96 1923.7 L1135.96 1923.8 L1137.96 1923.9 L1139.97 1924 L1141.97 1924.1 L1143.97 1924.2 L1145.98 1924.3 L1147.98 1924.4 L1149.98 1924.5 L1151.99 1924.6 L1153.77 1924.69 L1155.33 1924.77 L1156.66 1924.83 L1157.77 1924.89" stroke-dashoffset="6"/>
<path d="M232.06 1923.77 L232.09 1922.66 L232.13 1921.33 L232.17 1919.77 L232.22 1917.99 L232.28 1915.99 L232.33 1913.98 L232.39 1911.98 L232.45 1909.98 L232.5 1907.98 L232.56 1905.97 L232.61 1903.97 L232.67 1901.97 L232.72 1899.97 L232.78 1897.96 L232.83 1895.96 L232.89 1893.96 L232.94 1891.96 L233 1889.95 L233.05 1887.95 L233.1 1885.95 L233.15 1883.95 L233.2 1881.94 L233.25 1879.94 L233.3 1877.94 L233.35 1875.94 L233.4 1873.93 L233.45 1871.93 L233.5 1869.93 L233.55 1867.93 L233.6 1865.92 L233.65 1863.92 L233.7 1861.92 L233.75 1859.91 L233.8 1857.91 L233.85 1855.91 L233.91 1853.91 L233.96 1851.9 L234.01 1849.9 L234.07 1847.9 L234.13 1845.9 L234.18 1843.89 L234.24 1841.89 L234.3 1839.89 L234.36 1837.89 L234.42 1835.88 L234.48 1833.88 L234.54 1831.88 L234.6 1829.88 L234.66 1827.87 L234.72 1825.87 L234.78 1823.87 L234.84 1821.87 L234.9 1819.87 L234.96 1817.86 L235.02 1815.86 L235.08 1813.86 L235.14 1811.86 L235.2 1809.85 L235.26 1807.85 L235.33 1805.85 L235.39 1803.85 L235.45 1801.84 L235.52 1799.84 L235.58 1797.84 L235.65 1795.84 L235.72 1793.84 L235.79 1791.83 L235.86 1789.83 L235.93 1787.83 L236 1785.83 L236.08 1783.83 L236.15 1781.82 L236.22 1779.82 L236.29 1777.82 L236.36 1775.82 L236.43 1773.82 L236.5 1771.81 L236.57 1769.81 L236.65 1767.81 L236.72 1765.81 L236.79 1763.8 L236.86 1761.8 L236.93 1759.8 L237 1757.8 L237.07 1755.8 L237.14 1753.79 L237.22 1751.79 L237.29 1749.79 L237.36 1747.79 L237.45 1745.79 L237.54 1743.79 L237.65 1741.79 L237.76 1739.79 L237.88 1737.79 L238.01 1735.79 L238.15 1733.79 L238.3 1731.79 L238.45 1729.8 L238.6 1727.8 L238.74 1725.8 L238.88 1723.8 L239.01 1721.8 L239.15 1719.8 L239.28 1717.8 L239.4 1715.81 L239.52 1713.81 L239.65 1711.81 L239.79 1709.81 L239.94 1707.81 L240.09 1705.81 L240.25 1703.82 L240.42 1701.82 L240.6 1699.83 L240.79 1697.83 L240.98 1695.84 L241.17 1693.84 L241.36 1691.85 L241.55 1689.86 L241.75 1687.86 L241.93 1685.87 L242.12 1683.87 L242.29 1681.88 L242.46 1679.88 L242.62 1677.88 L242.77 1675.89 L242.92 1673.89 L243.06 1671.89 L243.19 1669.89 L243.32 1667.89 L243.45 1665.89 L243.59 1663.89 L243.72 1661.9 L243.86 1659.9 L244 1657.9 L244.14 1655.9 L244.28 1653.9 L244.43 1651.9 L244.58 1649.91 L244.76 1647.91 L244.97 1645.92 L245.19 1643.94 L245.44 1641.95 L245.71 1639.97 L246.01 1637.99 L246.32 1636.01 L246.66 1634.04 L247.01 1632.07 L247.37 1630.09 L247.71 1628.12 L248.05 1626.15 L248.37 1624.17 L248.69 1622.19 L249 1620.21 L249.29 1618.23 L249.58 1616.25 L249.86 1614.27 L250.13 1612.28 L250.39 1610.3 L250.63 1608.31 L250.87 1606.32 L251.08 1604.33 L251.28 1602.34 L251.47 1600.34 L251.64 1598.35 L251.8 1596.35 L251.94 1594.35 L252.07 1592.35 L252.21 1590.36 L252.37 1588.36 L252.55 1586.37 L252.77 1584.38 L253 1582.39 L253.27 1580.41 L253.56 1578.43 L253.87 1576.46 L254.21 1574.48 L254.58 1572.51 L254.94 1570.54 L255.3 1568.57 L255.65 1566.6 L255.99 1564.63 L256.34 1562.65 L256.67 1560.68 L257 1558.7 L257.33 1556.73 L257.65 1554.75 L257.97 1552.77 L258.28 1550.79 L258.6 1548.81 L258.92 1546.84 L259.27 1544.87 L259.63 1542.9 L260.01 1540.93 L260.41 1538.97 L260.83 1537.01 L261.27 1535.06 L261.73 1533.11 L262.21 1531.17 L262.69 1529.22 L263.19 1527.28 L263.73 1525.36 L264.32 1523.45 L264.94 1521.56 L265.62 1519.69 L266.33 1517.83 L267.09 1515.98 L267.9 1514.16 L268.74 1512.34 L269.62 1510.55 L270.5 1508.74 L271.33 1506.93 L272.1 1505.09 L272.81 1503.23 L273.47 1501.36 L274.07 1499.47 L274.62 1497.56 L275.12 1495.63 L275.56 1493.68 L275.95 1491.71 L276.34 1489.75 L276.74 1487.79 L277.15 1485.83 L277.58 1483.87 L278.01 1481.92 L278.46 1479.96 L278.91 1478.01 L279.38 1476.07 L279.86 1474.12 L280.34 1472.18 L280.83 1470.23 L281.37 1468.31 L281.95 1466.4 L282.57 1464.51 L283.24 1462.63 L283.96 1460.77 L284.72 1458.93 L285.53 1457.11 L286.38 1455.3 L287.27 1453.51 L288.17 1451.72 L289.09 1449.94 L290.03 1448.17 L290.99 1446.42 L291.98 1444.68 L292.99 1442.95 L294.02 1441.24 L295.07 1439.54 L296.15 1437.85 L297.24 1436.17 L298.33 1434.49 L299.49 1432.89 L300.74 1431.4 L302.07 1430 L303.49 1428.71 L304.99 1427.51 L306.57 1426.41 L308.23 1425.4 L309.98 1424.5 L311.81 1423.7 L313.66 1422.94 L315.52 1422.2 L317.39 1421.48 L319.26 1420.78 L321.14 1420.1 L323.03 1419.44 L324.93 1418.8 L326.84 1418.19 L328.75 1417.58 L330.66 1416.97 L332.57 1416.37 L334.48 1415.8 L336.41 1415.27 L338.35 1414.78 L340.29 1414.32 L342.24 1413.9 L344.2 1413.52 L346.17 1413.17 L348.14 1412.86 L350.13 1412.58 L352.11 1412.3 L354.1 1412.03 L356.08 1411.75 L358.07 1411.48 L360.05 1411.24 L362.04 1411.02 L364.03 1410.83 L366.03 1410.65 L368.02 1410.5 L370.02 1410.38 L372.02 1410.28 L374.02 1410.2 L376.02 1410.13 L378.02 1410.07 L380.02 1410 L382.03 1409.93 L384.03 1409.87 L386.03 1409.8 L388.03 1409.74 L390.04 1409.71 L392.04 1409.7 L394.04 1409.71 L396.04 1409.75 L398.04 1409.8 L400.04 1409.88 L402.04 1409.98 L404.04 1410.1 L406.03 1410.24 L408.03 1410.37 L410.03 1410.5 L412.03 1410.64 L414.03 1410.77 L416.03 1410.9 L418.03 1411.04 L420.02 1411.21 L422.02 1411.38 L424.01 1411.58 L426 1411.8 L427.99 1412.03 L429.97 1412.28 L431.96 1412.55 L433.94 1412.84 L435.92 1413.14 L437.9 1413.44 L439.88 1413.73 L441.86 1414.03 L443.84 1414.33 L445.83 1414.62 L447.81 1414.92 L449.78 1415.24 L451.76 1415.56 L453.74 1415.89 L455.71 1416.24 L457.68 1416.59 L459.65 1416.95 L461.62 1417.33 L463.58 1417.72 L465.55 1418.11 L467.51 1418.5 L469.48 1418.9 L471.44 1419.29 L473.4 1419.68 L475.37 1420.07 L477.33 1420.47 L479.29 1420.87 L481.25 1421.29 L483.21 1421.72 L485.16 1422.17 L487.11 1422.62 L489.06 1423.09 L491 1423.57 L492.95 1424.06 L494.88 1424.56 L496.82 1425.07 L498.76 1425.57 L500.7 1426.07 L502.64 1426.57 L504.58 1427.08 L506.51 1427.6 L508.44 1428.13 L510.37 1428.68 L512.29 1429.25 L514.21 1429.82 L516.12 1430.42 L518.03 1431.02 L519.93 1431.64 L521.83 1432.28 L523.73 1432.91 L525.63 1433.54 L527.53 1434.18 L529.43 1434.81 L531.33 1435.46 L533.22 1436.13 L535.09 1436.82 L536.96 1437.54 L538.82 1438.27 L540.68 1439.03 L542.52 1439.8 L544.36 1440.6 L546.18 1441.42 L548.01 1442.24 L549.84 1443.07 L551.66 1443.89 L553.49 1444.72 L555.31 1445.54 L557.14 1446.37 L558.97 1447.19 L560.79 1448.01 L562.62 1448.84 L564.44 1449.66 L566.27 1450.49 L568.1 1451.31 L569.92 1452.13 L571.75 1452.96 L573.57 1453.78 L575.4 1454.61 L577.22 1455.43 L579.05 1456.26 L580.88 1457.08 L582.7 1457.91 L584.53 1458.73 L586.35 1459.55 L588.18 1460.38 L590 1461.2 L591.83 1462.03 L593.66 1462.85 L595.48 1463.68 L597.31 1464.5 L599.13 1465.33 L600.96 1466.15 L602.78 1466.98 L604.61 1467.8 L606.43 1468.64 L608.25 1469.48 L610.05 1470.35 L611.85 1471.22 L613.65 1472.11 L615.44 1473.01 L617.22 1473.92 L618.99 1474.85 L620.76 1475.79 L622.53 1476.73 L624.3 1477.68 L626.05 1478.64 L627.8 1479.62 L629.54 1480.61 L631.27 1481.62 L632.99 1482.64 L634.7 1483.68 L636.4 1484.74 L638.09 1485.81 L639.78 1486.89 L641.46 1487.98 L643.15 1489.06 L644.84 1490.13 L646.53 1491.2 L648.22 1492.27 L649.92 1493.34 L651.62 1494.4 L653.32 1495.46 L655.02 1496.51 L656.73 1497.56 L658.43 1498.62 L660.14 1499.67 L661.84 1500.73 L663.54 1501.79 L665.23 1502.86 L666.93 1503.93 L668.62 1505 L670.31 1506.08 L671.99 1507.16 L673.68 1508.24 L675.36 1509.32 L677.04 1510.41 L678.72 1511.52 L680.38 1512.62 L682.05 1513.74 L683.7 1514.87 L685.35 1516.01 L686.99 1517.15 L688.63 1518.31 L690.26 1519.47 L691.89 1520.64 L693.52 1521.8 L695.15 1522.96 L696.79 1524.12 L698.42 1525.28 L700.06 1526.43 L701.7 1527.58 L703.34 1528.73 L704.99 1529.87 L706.63 1531.01 L708.28 1532.16 L709.92 1533.3 L711.55 1534.46 L713.17 1535.64 L714.78 1536.83 L716.38 1538.04 L717.96 1539.26 L719.53 1540.5 L721.09 1541.76 L722.64 1543.03 L724.18 1544.31 L725.71 1545.6 L727.25 1546.88 L728.79 1548.17 L730.32 1549.45 L731.86 1550.74 L733.39 1552.03 L734.92 1553.32 L736.45 1554.61 L737.98 1555.91 L739.51 1557.2 L741.04 1558.5 L742.57 1559.79 L744.09 1561.09 L745.61 1562.39 L747.13 1563.7 L748.65 1565.01 L750.17 1566.32 L751.68 1567.63 L753.19 1568.95 L754.69 1570.28 L756.19 1571.61 L757.68 1572.94 L759.17 1574.28 L760.66 1575.62 L762.15 1576.96 L763.63 1578.3 L765.12 1579.65 L766.6 1581 L768.08 1582.35 L769.56 1583.7 L771.04 1585.05 L772.52 1586.4 L774 1587.75 L775.48 1589.1 L776.95 1590.46 L778.43 1591.81 L779.91 1593.16 L781.39 1594.51 L782.88 1595.85 L784.38 1597.18 L785.88 1598.5 L787.39 1599.82 L788.91 1601.13 L790.43 1602.43 L791.96 1603.72 L793.5 1605 L795.04 1606.28 L796.56 1607.58 L798.07 1608.9 L799.57 1610.23 L801.05 1611.57 L802.52 1612.93 L803.98 1614.3 L805.42 1615.69 L806.85 1617.1 L808.26 1618.51 L809.68 1619.93 L811.1 1621.35 L812.51 1622.76 L813.93 1624.18 L815.35 1625.6 L816.76 1627.01 L818.18 1628.43 L819.59 1629.84 L821.01 1631.26 L822.43 1632.68 L823.84 1634.09 L825.26 1635.51 L826.68 1636.92 L828.11 1638.32 L829.55 1639.72 L830.99 1641.11 L832.44 1642.49 L833.9 1643.87 L835.36 1645.23 L836.83 1646.59 L838.31 1647.95 L839.78 1649.3 L841.27 1650.65 L842.76 1651.99 L844.25 1653.32 L845.75 1654.64 L847.26 1655.96 L848.78 1657.27 L850.3 1658.57 L851.84 1659.86 L853.37 1661.14 L854.91 1662.43 L856.45 1663.71 L857.98 1665 L859.51 1666.3 L861.04 1667.59 L862.56 1668.89 L864.08 1670.2 L865.6 1671.5 L867.12 1672.81 L868.63 1674.13 L870.14 1675.44 L871.65 1676.75 L873.17 1678.07 L874.68 1679.38 L876.19 1680.7 L877.69 1682.02 L879.2 1683.34 L880.7 1684.67 L882.2 1686 L883.69 1687.33 L885.18 1688.67 L886.67 1690.01 L888.16 1691.35 L889.65 1692.69 L891.14 1694.03 L892.63 1695.37 L894.12 1696.71 L895.61 1698.05 L897.1 1699.39 L898.59 1700.73 L900.08 1702.07 L901.57 1703.41 L903.05 1704.75 L904.54 1706.09 L906.03 1707.43 L907.52 1708.77 L909.01 1710.11 L910.5 1711.45 L911.99 1712.79 L913.48 1714.13 L914.97 1715.47 L916.46 1716.81 L917.94 1718.15 L919.43 1719.49 L920.92 1720.83 L922.41 1722.17 L923.9 1723.51 L925.39 1724.85 L926.88 1726.19 L928.37 1727.53 L929.86 1728.87 L931.35 1730.21 L932.83 1731.55 L934.32 1732.89 L935.81 1734.23 L937.3 1735.57 L938.79 1736.91 L940.28 1738.25 L941.77 1739.59 L943.26 1740.93 L944.75 1742.27 L946.24 1743.61 L947.73 1744.95 L949.21 1746.29 L950.7 1747.63 L952.19 1748.97 L953.68 1750.31 L955.17 1751.65 L956.67 1752.98 L958.17 1754.31 L959.68 1755.63 L961.18 1756.95 L962.7 1758.26 L964.21 1759.57 L965.74 1760.87 L967.26 1762.17 L968.79 1763.47 L970.31 1764.77 L971.84 1766.06 L973.37 1767.36 L974.89 1768.66 L976.42 1769.96 L977.95 1771.25 L979.47 1772.55 L981 1773.85 L982.52 1775.15 L984.05 1776.44 L985.58 1777.74 L987.1 1779.04 L988.63 1780.34 L990.16 1781.63 L991.68 1782.93 L993.21 1784.23 L994.74 1785.52 L996.27 1786.81 L997.81 1788.1 L999.35 1789.38 L1000.89 1790.65 L1002.44 1791.92 L1004 1793.18 L1005.56 1794.44 L1007.12 1795.7 L1008.68 1796.95 L1010.25 1798.2 L1011.81 1799.45 L1013.38 1800.7 L1014.94 1801.95 L1016.51 1803.2 L1018.07 1804.46 L1019.63 1805.71 L1021.2 1806.96 L1022.76 1808.21 L1024.33 1809.46 L1025.89 1810.71 L1027.46 1811.96 L1029.02 1813.22 L1030.58 1814.47 L1032.15 1815.72 L1033.71 1816.97 L1035.28 1818.21 L1036.86 1819.45 L1038.44 1820.68 L1040.03 1821.9 L1041.63 1823.11 L1043.23 1824.31 L1044.84 1825.5 L1046.45 1826.69 L1048.07 1827.87 L1049.69 1829.05 L1051.31 1830.23 L1052.93 1831.4 L1054.55 1832.58 L1056.18 1833.75 L1057.81 1834.9 L1059.47 1836.03 L1061.13 1837.14 L1062.81 1838.23 L1064.5 1839.29 L1066.21 1840.34 L1067.92 1841.37 L1069.66 1842.37 L1071.4 1843.37 L1073.13 1844.36 L1074.87 1845.36 L1076.61 1846.35 L1078.35 1847.34 L1080.09 1848.34 L1081.83 1849.33 L1083.57 1850.32 L1085.32 1851.3 L1087.07 1852.27 L1088.83 1853.23 L1090.6 1854.18 L1092.37 1855.11 L1094.14 1856.04 L1095.92 1856.95 L1097.71 1857.86 L1099.5 1858.75 L1101.29 1859.65 L1103.09 1860.54 L1104.88 1861.44 L1106.67 1862.34 L1108.46 1863.23 L1110.25 1864.13 L1112.05 1865.02 L1113.84 1865.92 L1115.63 1866.81 L1117.42 1867.71 L1119.21 1868.61 L1121 1869.5 L1122.8 1870.4 L1124.59 1871.29 L1126.38 1872.19 L1128.18 1873.08 L1129.98 1873.95 L1131.79 1874.8 L1133.61 1875.64 L1135.43 1876.46 L1137.27 1877.26 L1139.11 1878.05 L1140.95 1878.82 L1142.81 1879.57 L1144.67 1880.32 L1146.53 1881.06 L1148.39 1881.81 L1150.25 1882.55 L1152.11 1883.29 L1153.97 1884.04 L1155.83 1884.78 L1157.69 1885.53 L1159.55 1886.27 L1161.41 1887.01 L1163.27 1887.76 L1165.13 1888.5 L1167 1889.21 L1168.88 1889.9 L1170.77 1890.57 L1172.66 1891.22 L1174.56 1891.85 L1176.47 1892.46 L1178.38 1893.04 L1180.3 1893.6 L1182.23 1894.14 L1184.16 1894.69 L1186.09 1895.23 L1188.01 1895.78 L1189.94 1896.33 L1191.87 1896.87 L1193.8 1897.42 L1195.72 1897.96 L1197.65 1898.51 L1199.58 1899.05 L1201.51 1899.6 L1203.44 1900.13 L1205.37 1900.65 L1207.31 1901.15 L1209.25 1901.64 L1211.2 1902.1 L1213.15 1902.55 L1215.1 1902.99 L1217.06 1903.41 L1219.02 1903.8 L1220.99 1904.2 L1222.95 1904.59 L1224.92 1904.98 L1226.88 1905.38 L1228.85 1905.77 L1230.81 1906.16 L1232.77 1906.55 L1234.74 1906.95 L1236.7 1907.34 L1238.67 1907.73 L1240.63 1908.13 L1242.6 1908.52 L1244.56 1908.89 L1246.53 1909.26 L1248.51 1909.61 L1250.48 1909.95 L1252.45 1910.27 L1254.43 1910.59 L1256.41 1910.89 L1258.39 1911.18 L1260.38 1911.45 L1262.36 1911.73 L1264.35 1912.01 L1266.33 1912.29 L1268.31 1912.56 L1270.3 1912.84 L1272.28 1913.12 L1274.27 1913.4 L1276.25 1913.68 L1278.23 1913.95 L1280.22 1914.23 L1282.2 1914.51 L1284.19 1914.79 L1286.17 1915.06 L1288.15 1915.34 L1290.14 1915.62 L1292.12 1915.9 L1294.11 1916.16 L1296.09 1916.41 L1298.08 1916.65 L1300.07 1916.88 L1302.06 1917.1 L1304.05 1917.3 L1306.05 1917.49 L1308.04 1917.67 L1310.04 1917.84 L1312.04 1918 L1314.03 1918.17 L1316.03 1918.34 L1318.03 1918.5 L1320.02 1918.67 L1322.02 1918.83 L1324.01 1919 L1326.01 1919.17 L1328.01 1919.33 L1330 1919.5 L1332 1919.67 L1334 1919.83 L1335.99 1920 L1337.99 1920.17 L1339.99 1920.33 L1341.98 1920.5 L1343.98 1920.66 L1345.97 1920.83 L1347.97 1921 L1349.97 1921.16 L1351.96 1921.33 L1353.96 1921.49 L1355.96 1921.64 L1357.96 1921.78 L1359.95 1921.91 L1361.95 1922.03 L1363.95 1922.14 L1365.95 1922.25 L1367.95 1922.34 L1369.96 1922.43 L1371.96 1922.51 L1373.96 1922.6 L1375.96 1922.68 L1377.96 1922.77 L1379.96 1922.86 L1381.97 1922.94 L1383.97 1923.03 L1385.97 1923.11 L1387.97 1923.2 L1389.97 1923.28 L1391.97 1923.37 L1393.97 1923.46 L1395.98 1923.54 L1397.98 1923.63 L1399.98 1923.71 L1401.98 1923.8 L1403.98 1923.88 L1405.98 1923.97 L1407.98 1924.06 L1409.99 1924.14 L1411.99 1924.23 L1413.99 1924.31 L1415.99 1924.4 L1417.99 1924.49 L1419.99 1924.57 L1421.99 1924.66 L1423.77 1924.73 L1425.33 1924.8 L1426.66 1924.86 L1427.78 1924.9" stroke-dashoffset="9"/>
<path d="M212.11 1923.78 L212.16 1922.67 L212.22 1921.33 L212.3 1919.78 L212.38 1918 L212.48 1916 L212.57 1914 L212.67 1912 L212.76 1910 L212.84 1908 L212.93 1905.99 L213.01 1903.99 L213.09 1901.99 L213.16 1899.99 L213.23 1897.99 L213.3 1895.99 L213.37 1893.99 L213.43 1891.98 L213.5 1889.98 L213.56 1887.98 L213.62 1885.98 L213.68 1883.98 L213.74 1881.98 L213.79 1879.97 L213.84 1877.97 L213.89 1875.97 L213.94 1873.97 L213.98 1871.96 L214.02 1869.96 L214.07 1867.96 L214.11 1865.96 L214.15 1863.96 L214.2 1861.95 L214.24 1859.95 L214.28 1857.95 L214.33 1855.95 L214.37 1853.94 L214.41 1851.94 L214.46 1849.94 L214.5 1847.94 L214.54 1845.94 L214.59 1843.93 L214.63 1841.93 L214.68 1839.93 L214.72 1837.93 L214.76 1835.92 L214.81 1833.92 L214.86 1831.92 L214.94 1829.92 L215.03 1827.92 L215.15 1825.92 L215.29 1823.93 L215.45 1821.93 L215.63 1819.94 L215.84 1817.95 L216.06 1815.96 L216.29 1813.97 L216.52 1811.98 L216.75 1809.99 L216.98 1808 L217.19 1806.01 L217.39 1804.02 L217.59 1802.03 L217.77 1800.03 L217.95 1798.04 L218.12 1796.04 L218.28 1794.05 L218.43 1792.05 L218.59 1790.05 L218.74 1788.06 L218.89 1786.06 L219.05 1784.06 L219.2 1782.07 L219.36 1780.07 L219.51 1778.07 L219.67 1776.08 L219.82 1774.08 L219.97 1772.08 L220.13 1770.08 L220.27 1768.09 L220.42 1766.09 L220.55 1764.09 L220.68 1762.09 L220.81 1760.1 L220.93 1758.1 L221.04 1756.1 L221.15 1754.1 L221.26 1752.1 L221.36 1750.1 L221.47 1748.1 L221.57 1746.1 L221.68 1744.1 L221.78 1742.1 L221.89 1740.1 L221.99 1738.1 L222.1 1736.1 L222.21 1734.1 L222.31 1732.1 L222.42 1730.1 L222.52 1728.1 L222.63 1726.1 L222.73 1724.1 L222.84 1722.1 L222.94 1720.1 L223.05 1718.1 L223.15 1716.1 L223.26 1714.1 L223.36 1712.1 L223.47 1710.1 L223.58 1708.1 L223.68 1706.1 L223.79 1704.1 L223.9 1702.1 L224.01 1700.1 L224.12 1698.1 L224.23 1696.1 L224.34 1694.1 L224.45 1692.1 L224.56 1690.1 L224.67 1688.1 L224.78 1686.1 L224.89 1684.1 L225.01 1682.1 L225.12 1680.1 L225.23 1678.1 L225.34 1676.1 L225.45 1674.1 L225.57 1672.1 L225.68 1670.1 L225.79 1668.1 L225.9 1666.1 L226.02 1664.11 L226.13 1662.11 L226.25 1660.11 L226.37 1658.11 L226.5 1656.11 L226.62 1654.11 L226.75 1652.11 L226.88 1650.11 L227.01 1648.11 L227.14 1646.12 L227.27 1644.12 L227.39 1642.12 L227.52 1640.12 L227.64 1638.12 L227.77 1636.12 L227.89 1634.12 L228.01 1632.12 L228.13 1630.12 L228.25 1628.13 L228.37 1626.13 L228.49 1624.13 L228.61 1622.13 L228.73 1620.13 L228.86 1618.13 L228.98 1616.13 L229.1 1614.13 L229.22 1612.13 L229.34 1610.13 L229.46 1608.13 L229.59 1606.14 L229.71 1604.14 L229.83 1602.14 L229.96 1600.14 L230.08 1598.14 L230.21 1596.14 L230.33 1594.14 L230.46 1592.14 L230.59 1590.14 L230.72 1588.15 L230.85 1586.15 L230.98 1584.15 L231.1 1582.15 L231.23 1580.15 L231.36 1578.15 L231.48 1576.15 L231.6 1574.16 L231.73 1572.16 L231.85 1570.16 L231.97 1568.16 L232.09 1566.16 L232.21 1564.16 L232.33 1562.16 L232.46 1560.16 L232.58 1558.16 L232.71 1556.16 L232.85 1554.17 L232.98 1552.17 L233.11 1550.17 L233.25 1548.17 L233.39 1546.17 L233.54 1544.18 L233.7 1542.18 L233.87 1540.19 L234.05 1538.19 L234.24 1536.2 L234.44 1534.21 L234.64 1532.21 L234.86 1530.22 L235.08 1528.23 L235.32 1526.25 L235.58 1524.26 L235.86 1522.28 L236.16 1520.3 L236.49 1518.33 L236.83 1516.36 L237.19 1514.39 L237.58 1512.42 L237.98 1510.46 L238.39 1508.5 L238.78 1506.54 L239.15 1504.57 L239.5 1502.6 L239.82 1500.63 L240.12 1498.65 L240.4 1496.67 L240.66 1494.69 L240.89 1492.7 L241.11 1490.71 L241.32 1488.71 L241.53 1486.72 L241.74 1484.73 L241.96 1482.74 L242.2 1480.75 L242.47 1478.77 L242.75 1476.79 L243.04 1474.81 L243.36 1472.83 L243.7 1470.86 L244.05 1468.89 L244.42 1466.92 L244.79 1464.96 L245.17 1462.99 L245.54 1461.02 L245.91 1459.05 L246.29 1457.09 L246.66 1455.12 L247.03 1453.15 L247.41 1451.18 L247.78 1449.21 L248.15 1447.25 L248.52 1445.28 L248.9 1443.31 L249.28 1441.35 L249.67 1439.38 L250.08 1437.42 L250.48 1435.46 L250.9 1433.5 L251.33 1431.55 L251.76 1429.59 L252.2 1427.64 L252.65 1425.68 L253.11 1423.73 L253.57 1421.79 L254.05 1419.84 L254.53 1417.9 L255.03 1415.96 L255.53 1414.02 L256.04 1412.08 L256.54 1410.15 L257.03 1408.21 L257.51 1406.26 L257.97 1404.32 L258.41 1402.36 L258.84 1400.41 L259.24 1398.45 L259.62 1396.48 L259.98 1394.51 L260.46 1392.7 L261.13 1391.11 L261.98 1389.76 L263 1388.63 L264.21 1387.72 L265.6 1387.03 L267.17 1386.57 L268.93 1386.33 L270.87 1386.32 L272.87 1386.37 L274.88 1386.41 L276.88 1386.45 L278.88 1386.48 L280.88 1386.51 L282.89 1386.54 L284.89 1386.57 L286.89 1386.6 L288.89 1386.63 L290.9 1386.66 L292.9 1386.69 L294.9 1386.71 L296.9 1386.73 L298.91 1386.74 L300.91 1386.75 L302.91 1386.75 L304.91 1386.75 L306.92 1386.75 L308.92 1386.73 L310.92 1386.72 L312.92 1386.7 L314.93 1386.69 L316.93 1386.67 L318.93 1386.66 L320.93 1386.64 L322.94 1386.63 L324.94 1386.61 L326.94 1386.6 L328.95 1386.58 L330.95 1386.57 L332.95 1386.55 L334.95 1386.54 L336.96 1386.53 L338.96 1386.52 L340.96 1386.51 L342.96 1386.51 L344.97 1386.5 L346.97 1386.5 L348.97 1386.5 L350.98 1386.5 L352.98 1386.5 L354.98 1386.5 L356.98 1386.5 L358.99 1386.5 L360.99 1386.5 L362.99 1386.5 L364.99 1386.5 L367 1386.5 L369 1386.5 L371 1386.5 L373.01 1386.5 L375.01 1386.5 L377.01 1386.5 L379.01 1386.5 L381.02 1386.5 L383.02 1386.5 L385.02 1386.5 L387.02 1386.5 L389.03 1386.5 L391.03 1386.5 L393.03 1386.5 L395.04 1386.5 L397.04 1386.51 L399.04 1386.51 L401.04 1386.52 L403.05 1386.53 L405.05 1386.55 L407.05 1386.56 L409.05 1386.58 L411.06 1386.59 L413.06 1386.61 L415.06 1386.63 L417.07 1386.64 L419.07 1386.66 L421.07 1386.68 L423.07 1386.69 L425.08 1386.71 L427.08 1386.73 L429.08 1386.74 L431.08 1386.76 L433.09 1386.78 L435.09 1386.79 L437.09 1386.81 L439.09 1386.83 L441.1 1386.84 L443.1 1386.86 L445.1 1386.88 L447.11 1386.89 L449.11 1386.91 L451.11 1386.93 L453.11 1386.94 L455.12 1386.97 L457.12 1386.99 L459.12 1387.02 L461.12 1387.06 L463.13 1387.09 L465.13 1387.14 L467.13 1387.18 L469.13 1387.23 L471.13 1387.28 L473.14 1387.33 L475.14 1387.38 L477.14 1387.43 L479.14 1387.48 L481.15 1387.53 L483.15 1387.58 L485.15 1387.63 L487.15 1387.68 L489.15 1387.73 L491.16 1387.78 L493.16 1387.84 L495.16 1387.9 L497.16 1387.98 L499.16 1388.07 L501.16 1388.17 L503.16 1388.28 L505.16 1388.41 L507.15 1388.54 L509.15 1388.69 L511.15 1388.84 L513.15 1388.99 L515.14 1389.14 L517.14 1389.29 L519.14 1389.44 L521.13 1389.59 L523.13 1389.73 L525.13 1389.88 L527.13 1390.03 L529.12 1390.18 L531.12 1390.33 L533.12 1390.49 L535.11 1390.65 L537.11 1390.82 L539.1 1391.01 L541.1 1391.2 L543.09 1391.4 L545.08 1391.6 L547.07 1391.82 L549.06 1392.05 L551.05 1392.27 L553.04 1392.5 L555.03 1392.73 L557.02 1392.96 L559.01 1393.19 L561 1393.42 L562.99 1393.65 L564.98 1393.87 L566.97 1394.1 L568.96 1394.32 L570.95 1394.55 L572.94 1394.77 L574.93 1394.99 L576.92 1395.21 L578.91 1395.43 L580.9 1395.66 L582.89 1395.88 L584.88 1396.12 L586.87 1396.35 L588.85 1396.6 L590.84 1396.85 L592.83 1397.1 L594.81 1397.36 L596.8 1397.62 L598.78 1397.89 L600.77 1398.16 L602.75 1398.44 L604.74 1398.71 L606.72 1399 L608.7 1399.28 L610.68 1399.57 L612.66 1399.86 L614.64 1400.16 L616.62 1400.46 L618.6 1400.76 L620.58 1401.06 L622.57 1401.36 L624.55 1401.66 L626.53 1401.96 L628.51 1402.26 L630.49 1402.56 L632.47 1402.86 L634.44 1403.17 L636.42 1403.48 L638.4 1403.79 L640.38 1404.11 L642.35 1404.44 L644.33 1404.77 L646.3 1405.11 L648.28 1405.45 L650.25 1405.79 L652.22 1406.14 L654.19 1406.48 L656.17 1406.83 L658.14 1407.17 L660.11 1407.52 L662.09 1407.86 L664.06 1408.21 L666.03 1408.56 L668 1408.9 L669.98 1409.25 L671.95 1409.59 L673.92 1409.94 L675.89 1410.3 L677.86 1410.66 L679.83 1411.02 L681.8 1411.39 L683.77 1411.77 L685.73 1412.15 L687.7 1412.54 L689.66 1412.93 L691.62 1413.32 L693.59 1413.72 L695.55 1414.11 L697.52 1414.5 L699.48 1414.9 L701.44 1415.29 L703.41 1415.68 L705.37 1416.07 L707.33 1416.47 L709.3 1416.86 L711.26 1417.25 L713.23 1417.65 L715.19 1418.06 L717.14 1418.48 L719.1 1418.91 L721.05 1419.35 L723 1419.8 L724.95 1420.26 L726.9 1420.73 L728.84 1421.21 L730.79 1421.7 L732.73 1422.18 L734.67 1422.67 L736.61 1423.15 L738.56 1423.64 L740.5 1424.12 L742.44 1424.61 L744.39 1425.1 L746.33 1425.58 L748.27 1426.07 L750.21 1426.55 L752.16 1427.04 L754.1 1427.53 L756.04 1428.04 L757.97 1428.56 L759.9 1429.08 L761.83 1429.62 L763.76 1430.16 L765.68 1430.72 L767.6 1431.28 L769.52 1431.86 L771.44 1432.43 L773.36 1433.01 L775.28 1433.58 L777.19 1434.16 L779.11 1434.73 L781.03 1435.31 L782.95 1435.88 L784.87 1436.46 L786.79 1437.04 L788.7 1437.61 L790.62 1438.19 L792.54 1438.76 L794.46 1439.35 L796.37 1439.94 L798.28 1440.54 L800.19 1441.15 L802.09 1441.77 L803.99 1442.4 L805.89 1443.03 L807.79 1443.67 L809.68 1444.32 L811.58 1444.97 L813.47 1445.62 L815.37 1446.27 L817.26 1446.92 L819.15 1447.58 L821.05 1448.23 L822.94 1448.88 L824.84 1449.53 L826.72 1450.2 L828.58 1450.92 L830.42 1451.68 L832.23 1452.5 L834.03 1453.36 L835.79 1454.27 L837.54 1455.23 L839.26 1456.24 L840.96 1457.29 L842.64 1458.38 L844.33 1459.46 L846.02 1460.52 L847.73 1461.56 L849.45 1462.58 L851.19 1463.58 L852.93 1464.56 L854.69 1465.52 L856.45 1466.45 L858.23 1467.37 L860.03 1468.26 L861.82 1469.16 L863.6 1470.07 L865.38 1470.99 L867.15 1471.92 L868.92 1472.86 L870.68 1473.82 L872.43 1474.78 L874.18 1475.76 L875.92 1476.74 L877.66 1477.74 L879.4 1478.73 L881.13 1479.74 L882.86 1480.75 L884.58 1481.78 L886.29 1482.81 L888 1483.86 L889.7 1484.91 L891.39 1485.98 L893.08 1487.05 L894.77 1488.14 L896.45 1489.22 L898.13 1490.31 L899.81 1491.41 L901.47 1492.52 L903.14 1493.64 L904.79 1494.76 L906.44 1495.9 L908.08 1497.04 L909.72 1498.2 L911.35 1499.36 L912.98 1500.52 L914.61 1501.69 L916.25 1502.84 L917.89 1503.98 L919.54 1505.12 L921.19 1506.25 L922.85 1507.37 L924.52 1508.48 L926.19 1509.58 L927.87 1510.67 L929.56 1511.75 L931.24 1512.83 L932.93 1513.92 L934.61 1515 L936.3 1516.08 L937.98 1517.17 L939.66 1518.25 L941.35 1519.33 L943.03 1520.41 L944.72 1521.5 L946.4 1522.58 L948.09 1523.66 L949.77 1524.75 L951.43 1525.87 L953.08 1527 L954.71 1528.16 L956.32 1529.33 L957.92 1530.53 L959.51 1531.76 L961.07 1533 L962.62 1534.27 L964.16 1535.55 L965.68 1536.85 L967.2 1538.15 L968.72 1539.47 L970.22 1540.79 L971.72 1542.11 L973.21 1543.45 L974.69 1544.8 L976.17 1546.15 L977.64 1547.51 L979.11 1548.87 L980.58 1550.22 L982.06 1551.57 L983.55 1552.91 L985.05 1554.25 L986.55 1555.57 L988.05 1556.89 L989.57 1558.2 L991.08 1559.51 L992.61 1560.8 L994.14 1562.1 L995.67 1563.39 L997.2 1564.69 L998.73 1565.98 L1000.25 1567.27 L1001.78 1568.57 L1003.31 1569.86 L1004.84 1571.15 L1006.37 1572.45 L1007.9 1573.74 L1009.43 1575.03 L1010.96 1576.33 L1012.48 1577.63 L1014 1578.94 L1015.5 1580.26 L1016.99 1581.6 L1018.46 1582.95 L1019.92 1584.31 L1021.38 1585.69 L1022.81 1587.08 L1024.24 1588.49 L1025.66 1589.91 L1027.07 1591.32 L1028.5 1592.73 L1029.93 1594.12 L1031.39 1595.5 L1032.85 1596.86 L1034.33 1598.21 L1035.82 1599.54 L1037.33 1600.86 L1038.85 1602.16 L1040.38 1603.45 L1041.92 1604.73 L1043.46 1606.02 L1044.98 1607.31 L1046.5 1608.62 L1048.02 1609.93 L1049.53 1611.24 L1051.03 1612.57 L1052.52 1613.9 L1054.01 1615.24 L1055.49 1616.58 L1056.97 1617.94 L1058.44 1619.3 L1059.89 1620.67 L1061.34 1622.06 L1062.78 1623.45 L1064.21 1624.85 L1065.63 1626.26 L1067.04 1627.68 L1068.44 1629.12 L1069.83 1630.55 L1071.23 1631.99 L1072.63 1633.42 L1074.02 1634.86 L1075.42 1636.29 L1076.82 1637.73 L1078.21 1639.16 L1079.61 1640.6 L1081.01 1642.04 L1082.4 1643.47 L1083.8 1644.91 L1085.2 1646.34 L1086.59 1647.78 L1087.99 1649.21 L1089.39 1650.65 L1090.78 1652.08 L1092.18 1653.52 L1093.58 1654.95 L1094.98 1656.39 L1096.38 1657.82 L1097.78 1659.25 L1099.18 1660.68 L1100.58 1662.11 L1101.99 1663.54 L1103.39 1664.96 L1104.8 1666.39 L1106.21 1667.81 L1107.61 1669.24 L1109.02 1670.66 L1110.43 1672.09 L1111.84 1673.51 L1113.26 1674.92 L1114.69 1676.32 L1116.13 1677.72 L1117.58 1679.1 L1119.04 1680.47 L1120.5 1681.83 L1121.98 1683.18 L1123.47 1684.51 L1124.97 1685.85 L1126.46 1687.18 L1127.96 1688.51 L1129.46 1689.84 L1130.96 1691.17 L1132.45 1692.5 L1133.95 1693.82 L1135.46 1695.15 L1136.96 1696.47 L1138.46 1697.8 L1139.96 1699.12 L1141.47 1700.44 L1142.97 1701.76 L1144.47 1703.09 L1145.96 1704.43 L1147.44 1705.78 L1148.91 1707.14 L1150.36 1708.51 L1151.81 1709.9 L1153.25 1711.29 L1154.68 1712.69 L1156.1 1714.1 L1157.52 1715.52 L1158.93 1716.93 L1160.36 1718.34 L1161.79 1719.74 L1163.22 1721.14 L1164.67 1722.53 L1166.12 1723.91 L1167.57 1725.28 L1169.04 1726.65 L1170.51 1728.01 L1171.98 1729.36 L1173.46 1730.71 L1174.94 1732.07 L1176.41 1733.42 L1177.89 1734.77 L1179.37 1736.13 L1180.84 1737.48 L1182.32 1738.83 L1183.79 1740.19 L1185.27 1741.54 L1186.75 1742.89 L1188.22 1744.25 L1189.7 1745.6 L1191.18 1746.95 L1192.65 1748.31 L1194.13 1749.66 L1195.61 1751.01 L1197.08 1752.37 L1198.56 1753.72 L1200.03 1755.07 L1201.51 1756.43 L1202.99 1757.78 L1204.46 1759.13 L1205.94 1760.49 L1207.42 1761.84 L1208.89 1763.19 L1210.37 1764.55 L1211.85 1765.9 L1213.32 1767.25 L1214.8 1768.61 L1216.27 1769.96 L1217.75 1771.31 L1219.23 1772.66 L1220.73 1773.98 L1222.25 1775.28 L1223.79 1776.56 L1225.34 1777.82 L1226.91 1779.06 L1228.49 1780.28 L1230.1 1781.48 L1231.72 1782.65 L1233.35 1783.82 L1234.98 1784.98 L1236.6 1786.16 L1238.21 1787.34 L1239.81 1788.54 L1241.41 1789.75 L1242.99 1790.98 L1244.56 1792.22 L1246.12 1793.47 L1247.67 1794.74 L1249.22 1796.01 L1250.75 1797.3 L1252.31 1798.56 L1253.88 1799.8 L1255.46 1801.01 L1257.07 1802.21 L1258.69 1803.38 L1260.32 1804.53 L1261.97 1805.66 L1263.64 1806.77 L1265.32 1807.85 L1267.01 1808.93 L1268.69 1810.02 L1270.38 1811.1 L1272.06 1812.18 L1273.75 1813.27 L1275.43 1814.35 L1277.12 1815.43 L1278.8 1816.51 L1280.49 1817.6 L1282.17 1818.68 L1283.85 1819.76 L1285.54 1820.85 L1287.23 1821.92 L1288.93 1822.98 L1290.63 1824.03 L1292.34 1825.07 L1294.06 1826.1 L1295.78 1827.12 L1297.51 1828.14 L1299.24 1829.14 L1300.98 1830.13 L1302.72 1831.13 L1304.46 1832.12 L1306.2 1833.11 L1307.94 1834.11 L1309.68 1835.1 L1311.41 1836.09 L1313.15 1837.09 L1314.89 1838.08 L1316.63 1839.07 L1318.37 1840.07 L1320.11 1841.06 L1321.85 1842.06 L1323.59 1843.05 L1325.33 1844.04 L1327.06 1845.04 L1328.8 1846.03 L1330.54 1847.02 L1332.28 1848.02 L1334.02 1849.01 L1335.76 1850.01 L1337.5 1851 L1339.25 1851.97 L1341.01 1852.92 L1342.78 1853.84 L1344.57 1854.75 L1346.36 1855.63 L1348.17 1856.49 L1349.98 1857.32 L1351.81 1858.13 L1353.65 1858.92 L1355.5 1859.71 L1357.34 1860.5 L1359.18 1861.29 L1361.02 1862.08 L1362.86 1862.88 L1364.69 1863.67 L1366.53 1864.46 L1368.37 1865.25 L1370.21 1866.05 L1372.05 1866.84 L1373.89 1867.64 L1375.73 1868.43 L1377.57 1869.21 L1379.41 1870 L1381.26 1870.77 L1383.11 1871.54 L1384.96 1872.3 L1386.81 1873.06 L1388.67 1873.81 L1390.53 1874.56 L1392.39 1875.3 L1394.25 1876.04 L1396.11 1876.77 L1397.98 1877.49 L1399.86 1878.19 L1401.74 1878.88 L1403.62 1879.56 L1405.51 1880.22 L1407.4 1880.88 L1409.3 1881.52 L1411.2 1882.15 L1413.1 1882.78 L1415 1883.42 L1416.9 1884.05 L1418.8 1884.68 L1420.7 1885.32 L1422.6 1885.95 L1424.5 1886.58 L1426.4 1887.22 L1428.3 1887.85 L1430.2 1888.48 L1432.1 1889.11 L1434.01 1889.72 L1435.92 1890.32 L1437.83 1890.91 L1439.75 1891.48 L1441.67 1892.04 L1443.6 1892.59 L1445.53 1893.12 L1447.46 1893.65 L1449.39 1894.16 L1451.33 1894.68 L1453.27 1895.19 L1455.21 1895.69 L1457.15 1896.17 L1459.09 1896.64 L1461.04 1897.09 L1463 1897.53 L1464.95 1897.96 L1466.91 1898.38 L1468.87 1898.77 L1470.84 1899.17 L1472.8 1899.56 L1474.77 1899.95 L1476.73 1900.35 L1478.69 1900.74 L1480.66 1901.13 L1482.62 1901.52 L1484.58 1901.92 L1486.55 1902.31 L1488.51 1902.7 L1490.48 1903.1 L1492.44 1903.49 L1494.4 1903.88 L1496.37 1904.27 L1498.33 1904.66 L1500.3 1905.04 L1502.27 1905.41 L1504.24 1905.77 L1506.21 1906.12 L1508.18 1906.46 L1510.16 1906.8 L1512.13 1907.12 L1514.11 1907.44 L1516.09 1907.75 L1517.85 1908.03 L1519.38 1908.27 L1520.7 1908.48 L1521.8 1908.65" stroke-dashoffset="12"/>
<path d="M246 1926.5 H900" stroke-dasharray="12.5 8"/>
</g>
<g id="responses" stroke-width="7.4" stroke-linejoin="round" stroke-linecap="round">
<path d="M154 1936.94 L155.27 1929.58 L156.85 1918.72 L157.6 1915.95 L158.23 1908.07 L160.07 1898.37 L160.43 1894.02 L163.04 1893.84 L166.89 1901.27 L171.5 1905.6 L175.33 1905.54 L179.26 1905.35 L181.51 1913.65 L182.75 1916.8 L186.32 1923.71 L187.79 1927.51 L189.94 1922.42 L190.66 1916.42 L193.15 1906 L194.69 1898.7 L196.92 1904.2 L197.49 1910.85 L200.18 1921.01 L201.22 1920.3 L206.48 1920.23 L212.62 1916.81 L213.69 1913.05 L215.71 1903.31 L216.36 1900.69 L218.98 1889.91 L219.64 1884.71 L221.82 1890.32 L222.21 1899.17 L223.73 1905.13 L225.85 1909.66 L228.16 1917.43 L229.35 1922.83 L231.98 1928.93 L234.43 1937.75 L236.34 1929.85 L237.2 1925.99 L238.95 1925.36 L240.02 1913.76 L241.51 1920.73 L244.53 1923.5 L246.25 1917.56 L247.63 1910.8 L248.28 1904.71 L249.09 1898.65 L250.62 1894.01 L252.45 1886.44 L254.75 1891.92 L256.91 1900.11 L257.88 1903.39 L260 1910 L262.54 1903.92 L265 1897.5 L269.15 1895.21 L272.5 1895 L274.23 1888.51 L275.71 1880.79 L275.6 1872.74 L277.5 1867.5 L282.5 1867.5 L285.67 1873.79 L287.5 1875 L289.74 1872.45 L292.2 1863.73 L295 1860 L298.46 1861.64 L302.5 1862.5 L305.69 1860.8 L310 1857.5 L312.8 1853.81 L315 1847.5 L318.03 1848.72 L322.5 1850 L325.36 1841.14 L326.25 1836.2 L328.75 1830 L333.75 1832.5 L335.15 1839.24 L336.12 1841.6 L336.79 1849.87 L338.75 1855 L339.63 1848.29 L341.08 1844.58 L342.15 1838.32 L342.53 1829.53 L343.11 1821.84 L343.55 1817.46 L345 1810 L350 1807.5 L351.18 1811.6 L353.3 1822.35 L353.68 1819.56 L355 1830 L358.11 1832.18 L361.25 1835 L362.79 1827.51 L365 1825 L366.35 1832.8 L368.78 1839.7 L370.24 1842.69 L370.74 1849.15 L372.5 1857.5 L373.93 1850.3 L377.25 1847.97 L378.75 1837.5 L382.28 1839.6 L386.25 1840 L388.44 1842.55 L390 1852.5 L391.82 1847 L393.45 1839.16 L394.34 1831.87 L396.25 1830 L399.68 1826.59 L402.5 1822.5 L407.5 1825 L408.42 1833.63 L410.13 1835.18 L410.47 1840.28 L412.5 1847.5 L414.65 1840.76 L416.19 1836.29 L418.6 1825.85 L420 1822.5 L425 1825 L425.76 1829.78 L427.53 1836.17 L427.76 1848.45 L429.3 1849.29 L430 1860 L434.51 1857.56 L437.5 1850 L441.3 1844.28 L445 1840 L450 1840 L450.72 1849.18 L452.46 1848.57 L454.06 1858.83 L454.47 1862.5 L456.25 1872.5 L459.82 1863.41 L462.5 1860 L467.37 1857.17 L472.5 1857.5 L477.7 1860.48 L482.5 1862.5 L487.85 1858.16 L492.5 1860 L496.74 1860.02 L502.5 1857.5 L505.24 1866.17 L507.05 1869.62 L510 1877.5 L513.02 1868.39 L517.5 1865 L522.45 1861.36 L527.5 1857.5 L530.66 1859.48 L535 1860 L537.21 1866.43 L539.26 1872.98 L542.5 1877.5 L544.94 1869.46 L547.64 1867.9 L550 1860 L551 1860 L552.66 1854.23 L555.02 1848.29 L557.25 1842.5 L558.56 1847.41 L561.11 1854.75 L562.25 1860 L563.09 1870.04 L563.69 1874.85 L565.45 1879.71 L567.15 1890.79 L567.97 1891.9 L568.5 1902.5 L572.48 1898.21 L576 1890 L578.29 1896.86 L581.1 1902.31 L583.5 1905 L591 1905 L595.48 1911.7 L598.5 1912.5 L600.35 1906.06 L603.3 1901.88 L604.75 1895 L606.42 1888.76 L608.06 1884.47 L610.06 1878.65 L611 1870 L613.93 1862.32 L617.25 1857.5 L618.48 1864.41 L621.13 1865.92 L622.6 1880.09 L623.5 1882.5 L627.4 1888.37 L631 1895 L632.07 1907.61 L633.01 1905.19 L634.2 1920.04 L634.94 1919.6 L636.55 1927.3 L637.34 1932.54 L638.5 1940 L640.9 1937.45 L641.47 1925.78 L644.82 1920.89 L646 1915 L650.2 1916.3 L653.5 1917.5 L656.7 1916.74 L661 1912.5 L664.28 1917.94 L666 1925 L667.21 1921.9 L668.73 1910.12 L669.14 1904.8 L671.42 1900.15 L672.25 1895 L674.18 1904.46 L676.3 1906.33 L678.59 1915.17 L681 1922.5 L682.89 1916 L683.6 1910.18 L685.43 1908.48 L687.07 1896.2 L688.5 1892.5 L691.47 1894.16 L696 1895 L697.37 1898.96 L698.83 1905.8 L700.41 1911.89 L700.82 1916.66 L701.76 1928.95 L703.5 1932.5 L706.92 1926.64 L711 1920 L716.54 1918.04 L721 1917.5 L723.81 1922.52 L726.45 1931.57 L728.5 1937.5 L731.66 1933.23 L733.58 1927.79 L736 1920 L737.56 1913.13 L739.26 1908.61 L741.19 1902.7 L742.25 1895 L747.14 1896.91 L751 1897.5 L753.97 1902.24 L756.36 1907.07 L758.5 1912.5 L764.27 1914.67 L768.5 1910 L769.53 1916.46 L772.55 1923.61 L774.47 1932.61 L775.84 1937.21 L777.25 1942.5 L779.17 1937.37 L779.19 1927.75 L780.46 1921.54 L782.45 1917.51 L783.5 1910 L785.39 1904.45 L786.98 1901.03 L789.75 1892.5 L792.33 1899.14 L794.73 1905.3 L796.02 1911.12 L798.5 1915 L803.66 1907.31 L808.5 1910 L810.8 1916.93 L813.5 1923.18 L814.68 1916.23 L817.5 1908.91 L819.18 1903.56 L821.24 1900.86 L823.27 1893.42 L824.69 1898.94 L825.33 1905.86 L827.33 1913.93 L828.15 1921.49 L830.09 1916.94 L831.77 1911.44 L834.27 1906.11 L835.81 1899 L837.65 1909.08 L838.33 1912.42 L840.59 1919.84 L843.49 1922.16 L847.58 1926.15 L850.53 1929.27 L853.17 1931.75 L854.22 1929.19 L855.05 1917.8 L856.77 1910.09 L857.49 1903.55 L858.15 1913.47 L860.53 1921.46 L861.16 1928.21 L862.98 1930.56 L864.78 1928.38 L866.56 1920.3 L867.35 1914.6 L868.7 1904.6 L870.66 1900 L871.64 1908.98 L872.93 1915.42 L874.57 1922.19 L876.04 1921.47 L876.81 1933.49 L878 1938.1 L879.59 1927.82 L880.72 1922.41 L881.69 1918.42 L883.04 1910.24 L885.22 1902.89 L887.39 1905.3 L887.52 1915.54 L889.83 1923.56 L891.31 1925.36 L892.98 1933.42 L895.22 1929.4 L897.02 1924.07 L899.87 1918.27 L901.71 1920.59 L903.96 1929.72 L904.6 1926.83 L905.95 1917.75 L907.2 1913.39 L908.73 1906.23 L910.18 1911.64 L913.15 1918.22 L914.34 1924.13 L917.18 1924.05 L920.44 1917.76 L924.86 1921.08 L926.1 1926.68 L926.73 1935.88 L928.01 1941.35 L928.36 1946.98 L929.66 1955.49 L932.9 1950.7 L937.22 1952.24 L937.96 1946.84 L938.99 1938.54 L940.73 1933.39 L941.8 1924.01 L943.28 1916.65 L944.55 1910.42 L945.6 1921.06 L945.41 1924.9 L947.36 1935.13 L947.59 1933.56 L947.27 1948.67 L948.76 1953.28 L949.01 1946.48 L949.94 1936.63 L951.69 1934.29 L952.33 1924.24 L953.52 1917.2 L956.41 1927.39 L960.61 1929.1 L962.85 1927 L965.11 1920.82 L968.17 1916.69 L969.83 1909.45 L970.36 1917.34 L972.17 1925.7 L973.43 1932.1 L974.52 1939.39 L976.08 1946.15 L977.61 1939.9 L977.11 1931.03 L978.44 1926.69 L978.5 1919.95 L980 1914.88 L980.7 1907.46 L982.77 1910.12 L983.03 1917.34 L984.12 1923.58 L986.28 1932.24 L988.16 1925.49 L989.6 1917.5 L991.56 1913.88 L996.81 1912.21 L1000.68 1913.81 L1003.23 1920.43 L1005.11 1921.74 L1007.6 1930.87 L1008.39 1925.24 L1009.46 1916.66 L1011.75 1910.97 L1013.07 1902.72 L1013.13 1897.32 L1015.04 1889.32 L1015.41 1897.89 L1016.71 1903.62 L1016.96 1912.18 L1017.42 1916.86 L1018.92 1922.14 L1019.79 1928.11 L1020.97 1937.12 L1022.83 1940.07 L1024.39 1951.34 L1025.64 1954.41 L1026.69 1945.27 L1026.58 1937.29 L1026.78 1934.62 L1028.01 1923.35 L1028.06 1918.73 L1028.6 1910.56 L1028.33 1905.74 L1028.4 1898.74 L1028.96 1890.31 L1029.74 1884.09 L1031.51 1887.58 L1035.1 1893.81 L1037.15 1899.4 L1039.91 1905.66 L1044.12 1912.28 L1050.66 1909.66 L1056.13 1907.1 L1058.58 1911.01 L1062.22 1920.35 L1066 1921.58 L1068.35 1916 L1070.65 1920.84 L1072.37 1927.44 L1074.71 1929.69 L1077.79 1935.02 L1081.42 1934.53 L1083.98 1928.06 L1085.87 1923.35 L1087.54 1914.41 L1091.68 1908.29 L1094.26 1912.35 L1097.88 1913.37 L1101.52 1903.52 L1104.48 1903.48 L1108.69 1908.21 L1111.96 1909.5 L1113.85 1901.98 L1116.96 1898.46 L1119.14 1908.16 L1121.44 1908.95 L1124.12 1908.48 L1127.01 1915.02 L1129.86 1923.27 L1131.37 1931.72 L1133.47 1935.71 L1134.6 1928.16 L1137.49 1921.11 L1139.51 1915.1 L1140.5 1907.76 L1141.53 1911.54 L1144.67 1918.62 L1145.84 1925.81 L1147.11 1920.94 L1148.25 1917.04 L1150.18 1910.07 L1151.72 1901.34 L1152.64 1900.05 L1154.26 1890.81 L1156.48 1890.55 L1157.37 1877.85 L1158.48 1883.09 L1157.89 1890.09 L1159.54 1897.86 L1159.03 1905.38 L1159.46 1911.27 L1160.17 1914.47 L1161.67 1924.47 L1162.32 1935.82 L1162.28 1939.71 L1163.7 1934.48 L1163.95 1925.88 L1165.98 1920.8 L1167.18 1916.1 L1170.16 1912.38 L1173.49 1910.12 L1176.77 1914.61 L1180.64 1915.35 L1181.82 1921.55 L1183.34 1926.47 L1184.74 1933 L1186.5 1923.46 L1187.23 1921.17 L1187.99 1909.2 L1188.71 1903.34 L1190.02 1910.11 L1191.37 1913.62 L1192.77 1919.97 L1193.74 1927.89 L1195.24 1922.33 L1198.09 1917.28 L1200.99 1920.36 L1205.21 1927.03 L1206.62 1922.52 L1207.54 1911.69 L1207.84 1911.42 L1209.19 1899.89 L1212.7 1900.99 L1215.51 1895.46 L1219.6 1902.96 L1223.15 1907.23 L1226.73 1913.18 L1228.85 1913.77 L1232.23 1905.83 L1234.54 1901.93 L1236.14 1907.67 L1237.01 1914.75 L1238.84 1923.01 L1239.43 1929.5 L1240.34 1928.14 L1240.94 1917.08 L1241.43 1907.63 L1243.03 1904.19 L1243.81 1890.14 L1244.29 1888.29 L1245.31 1878.38 L1248.08 1887.09 L1250.68 1891.55 L1252.06 1894.76 L1252.3 1907.69 L1253.48 1910.52 L1254.83 1917.3 L1259.15 1917.17 L1266.59 1917.45 L1268.44 1913.92 L1268.5 1901.76 L1269.81 1894.91 L1270.77 1887.31 L1273.29 1882.85 L1273.91 1877.93 L1275.21 1883.15 L1275.84 1893.55 L1277.38 1899.05 L1277.85 1908.55 L1279.37 1914.3 L1279.56 1921.32 L1280.62 1915.4 L1283.01 1907.36 L1284.08 1901.2 L1286.25 1895.63 L1287.14 1900.63 L1288.1 1907.04 L1287.77 1912.62 L1289.95 1924.22 L1289.66 1932.74 L1291.38 1935.36 L1291 1943.58 L1292.14 1948.03 L1292.92 1959.06 L1293.38 1952.14 L1294.47 1945.53 L1295.67 1936.19 L1297.75 1928.9 L1298.81 1923.83 L1299.88 1911.23 L1300.64 1907.49 L1302.32 1917.57 L1303.38 1920.89 L1302.99 1929.47 L1304.15 1936.42 L1305.41 1939.84 L1307 1951.02 L1307.6 1957.28 L1307.97 1948.01 L1309.47 1944.85 L1310.09 1934.53 L1312.03 1928.06 L1312.76 1927.43 L1313.11 1914.05 L1314.83 1908.28 L1320.39 1909.44 L1322.72 1915.55 L1323.61 1920.51 L1326.14 1928.76 L1327.46 1921.49 L1329.52 1921.46 L1330.2 1913.52 L1332.58 1917.03 L1335.34 1921.84 L1337.85 1920.63 L1339.73 1914.42 L1341.63 1906.22 L1342.34 1900.45 L1344.59 1894.03 L1345.33 1888.08 L1346.89 1881.61 L1347.3 1887.91 L1348.17 1894.33 L1348.72 1895.51 L1350.26 1909.44 L1350.83 1916.16 L1351.61 1921.62 L1352.66 1928.75 L1354.33 1926.91 L1354.78 1917.71 L1355.4 1911.99 L1357.35 1906.43 L1360.52 1906.59 L1364.06 1901.89 L1367.68 1907.32 L1371.24 1909.83 L1373.77 1905.25 L1374.7 1898.74 L1376.56 1894.57 L1377.75 1900.01 L1380.38 1904.11 L1381.2 1910.39 L1382.45 1914.21 L1384.96 1923.28 L1387.09 1929.1 L1389.22 1922.17 L1391.7 1917.95 L1393.04 1915.25 L1394.25 1916.78 L1396.95 1923.26 L1398.89 1917.63 L1402.35 1911.45 L1404.87 1915.02 L1406.71 1924.96 L1408.11 1928.94 L1414.07 1931.7 L1418.61 1926.86 L1421.56 1924.18 L1424.13 1920.8 L1425.87 1915.48 L1430.02 1909.94 L1433.27 1905.96 L1434.29 1907.27 L1435.1 1893.45 L1436.57 1888.71 L1437.84 1883.4 L1438.36 1891.8 L1439.83 1896.25 L1440.36 1902.18 L1440.61 1903.74 L1442.16 1913.13 L1444.3 1921.97 L1444.72 1928.53 L1446.73 1930.07 L1450.01 1923.92 L1451.82 1916.81 L1453.39 1912.83 L1455.31 1907.95 L1456.04 1901.69 L1458.2 1909.88 L1458.85 1915.58 L1460.05 1922.16 L1461.88 1928.92 L1464.3 1920.7 L1465.27 1910.79 L1467.8 1910.63 L1473.26 1909.87 L1475.12 1903.81 L1475.68 1901.53 L1477.87 1893.73 L1480.63 1902.17 L1483.79 1906.54 L1484.79 1910.21 L1486.95 1920.03 L1486.99 1924.6 L1488.68 1931.98 L1490.19 1940.92 L1491.02 1945.78 L1492.52 1940.62 L1492.58 1932.02 L1494.55 1922.42 L1495.89 1917.86 L1496.89 1909.91 L1498.06 1903.6 L1498.59 1908.83 L1499.83 1918.44 L1501.53 1920.81 L1503.12 1930.61 L1507.7 1926.81 L1510.92 1921.03 L1515.67 1918.21 L1519.86 1918.71 L1521.39 1921.94 L1524.04 1931.35 L1525.8 1940.51 L1526.82 1945.29"/>
<path d="M154 1904.86 L155.58 1911.28 L158.92 1920.11 L160.72 1925.67 L162.46 1931.12 L163.76 1920.09 L164.65 1919.94 L166.31 1910.1 L167.25 1901.28 L168.73 1893.76 L170 1887.94 L170.64 1894.4 L170.73 1903.77 L171.58 1910.17 L173.62 1916.03 L174.04 1924.99 L174.7 1929.97 L175.03 1937.35 L175.96 1934.55 L176.31 1922.37 L176.83 1915.4 L178.54 1905.33 L178.15 1904.53 L179.39 1895.85 L179.93 1905.69 L181.73 1909.84 L181.96 1919.06 L183.85 1922.63 L185.57 1930.79 L186.1 1934.37 L191.19 1936.6 L192.24 1931.07 L194.86 1921.77 L195.71 1915.89 L198.53 1912.19 L199.47 1905.32 L202.56 1900.92 L204.41 1897.72 L207.86 1890.57 L209.98 1897.86 L212.24 1903 L213.5 1909.45 L216.77 1913.63 L219.59 1919.46 L223.78 1923.81 L226.87 1922.79 L229.59 1920.67 L233.07 1913.48 L235.28 1921.25 L238.13 1921.6 L240.29 1927.95 L242.4 1934.23 L245.47 1928.08 L246.81 1924.7 L249.7 1919.52 L252.97 1918.67 L257 1915 L260 1900 L262 1875 L264 1850 L266.4 1825 L269 1812.8 L271.5 1791.5 L277.7 1787.7 L280 1772.7 L283.84 1770.86 L289 1770 L290 1756 L291.1 1751.9 L292.86 1744.84 L294 1737.6 L296.5 1717.5 L302.8 1716 L304.5 1700 L306.99 1695.05 L309 1689 L313.99 1688.92 L319 1686.7 L321.6 1676.6 L325.6 1675.79 L329 1680.4 L331.6 1657.8 L333.93 1652.9 L334.37 1645.85 L336.6 1640.3 L339.99 1638.25 L343.91 1628.05 L346.6 1626.5 L349.62 1619.75 L352.9 1615.2 L355.25 1611.79 L356.7 1606.5 L363 1607.7 L365.4 1616.5 L368.57 1613.68 L373 1614 L374.28 1617.38 L375.96 1630.14 L378 1632.8 L379.46 1623.03 L379.89 1616 L382.18 1613.45 L383 1607.7 L384.46 1615.78 L386.05 1621.49 L387.51 1628.95 L388 1636.5 L389.06 1627.27 L390.12 1620 L391.6 1615.28 L392.3 1609.7 L394.6 1598.16 L395.5 1595 L397.5 1595 L398.23 1603.8 L400.04 1610.1 L402.25 1619.06 L403.85 1619.68 L404.51 1627.1 L405.63 1636.37 L407.5 1640 L408.88 1633.29 L410.31 1620.52 L413.37 1618.07 L414.32 1614.26 L415.48 1606.33 L417.87 1602.49 L419.6 1592.95 L421.25 1582.5 L422.27 1588.86 L424.26 1598.76 L424.51 1603.42 L426.42 1612.06 L426.69 1612.96 L427.72 1619.33 L429.62 1628.56 L429.54 1636.28 L432.08 1640.92 L432.5 1650 L434.6 1643.36 L435.48 1633.92 L437.18 1628.57 L437.82 1617.78 L439.81 1614.97 L440.49 1608.14 L442.5 1600 L445.37 1610.12 L446.86 1614.93 L449.47 1620.61 L452.5 1627.5 L454.34 1630.86 L458.07 1641.01 L459.46 1645.92 L462.5 1652.5 L465.96 1645.68 L468.77 1640.39 L472.5 1635 L477.5 1640 L480.77 1633.9 L482.73 1626.84 L486.25 1620 L488.58 1623.64 L490.85 1626.79 L493.48 1637.19 L495 1642.5 L498.4 1635.24 L502.5 1632.5 L505.04 1641.39 L508.62 1637.32 L511.28 1650.58 L515 1652.5 L517.75 1657.66 L519.2 1658.95 L522.5 1667.5 L525.71 1660.02 L527.76 1659.81 L530 1650 L532.37 1657.35 L534.74 1658.44 L537.87 1663.41 L540 1672.5 L545.18 1674.89 L550 1677.5 L551 1685 L556.47 1685.14 L561 1682.5 L561.2 1690.66 L563.47 1695.06 L563.27 1696.35 L565.06 1705.4 L566 1712.5 L568.02 1719.32 L571.76 1726.81 L573.5 1732.5 L575.9 1724.95 L577.49 1717.63 L578.69 1715.84 L581 1707.5 L582.51 1716.34 L584.88 1718.95 L587.01 1722.03 L588.5 1730 L590.69 1723.69 L593.5 1717.5 L598.88 1714.18 L603.5 1715 L605.16 1724.21 L605.91 1728.86 L606.87 1735.53 L609.05 1743.79 L608.97 1751.02 L611 1757.5 L615.18 1761.91 L618.5 1762.5 L621.53 1757.76 L624.75 1750 L626.8 1754.23 L627.11 1764.14 L629.91 1770.96 L631 1777.5 L633.62 1781.11 L635.35 1789.92 L637.25 1797.5 L641.19 1788.3 L644.75 1787.5 L647.73 1786.22 L652.25 1775 L653.86 1776.43 L655.72 1786.13 L658.5 1792.5 L662.04 1795.85 L666 1797.5 L667.43 1804.2 L670.05 1811.01 L672.25 1817.5 L676.31 1817.21 L681 1817.5 L681.72 1809.34 L684.23 1808.15 L684.3 1797.43 L685.84 1791.35 L687.25 1787.5 L689.62 1794.43 L693.5 1800 L697.18 1806.62 L701 1812.5 L702.36 1816.01 L702.86 1826.61 L704.01 1828.69 L704.59 1837.21 L705.16 1848.5 L706.3 1853.21 L705.97 1858.31 L707.25 1867.5 L708.22 1860.49 L710.18 1856.83 L710.51 1842.38 L712.04 1838.62 L713.5 1832.5 L715.35 1837.73 L717.93 1844.96 L720.66 1854.37 L723.5 1860 L725.88 1854.22 L727.87 1851.11 L731 1842.5 L736.73 1843.85 L741 1845 L743.41 1848.32 L744.08 1860.69 L746.07 1862.64 L748.5 1867.5 L751.16 1862.53 L753.91 1853.57 L756 1852.5 L759.67 1856.8 L763.5 1860 L766.04 1864.12 L766.72 1870.79 L769.01 1874.94 L771 1885 L773.07 1879.83 L775.67 1872.01 L778.5 1865 L781.06 1859.23 L783.05 1853.5 L786 1850 L786.6 1853.45 L788.87 1860.38 L790.32 1869.06 L791.45 1872.79 L792.25 1880 L794.56 1878.08 L798.11 1872.73 L801 1865 L802.92 1860.56 L803.72 1855.55 L804.7 1847.67 L805.91 1842.03 L807.25 1835 L808.73 1842.69 L809.69 1846.75 L811.6 1852.29 L813.5 1860 L814.35 1864.35 L816.17 1876.81 L817.35 1875 L818.84 1888.37 L821 1890 L823.25 1884.18 L825.94 1879.89 L828.5 1870 L829.36 1877.77 L831.8 1881.51 L832.92 1890.03 L834.06 1895.45 L836 1902.5 L838.16 1896.19 L841 1890.61 L842.76 1900.34 L844.26 1897.68 L846.38 1907.4 L848.02 1913.25 L848.91 1904.52 L849.8 1896.61 L850.81 1893.69 L852.5 1886.78 L852.55 1876.01 L853.97 1873.18 L854.8 1863.88 L855.18 1867.18 L855.87 1878.43 L856.88 1884.08 L857.72 1885.82 L858.65 1896.01 L860.22 1903.95 L862.66 1896.19 L863.86 1889.75 L866.8 1884.53 L867.89 1891.45 L869.82 1893.36 L871.41 1903.96 L872.22 1910.8 L875 1908.17 L877.39 1903.96 L879.09 1897.91 L880.58 1893.36 L882.61 1889.2 L884.8 1895.32 L885.56 1904.07 L887.34 1909.84 L889.76 1899.24 L890.6 1903.6 L892.49 1893.49 L892.89 1894.19 L894.86 1906.29 L895.1 1910.8 L895.92 1915.45 L897.28 1929.04 L898.42 1932.93 L898.74 1924.43 L900.02 1917.77 L900.47 1912.47 L901.76 1906.41 L902.22 1899.16 L902.8 1894.87 L903.38 1888.61 L903.77 1876.51 L904.79 1871.96 L905.5 1877.53 L907.42 1884.25 L906.96 1889.91 L908.69 1898.24 L908.89 1905.87 L911.04 1917.9 L911.1 1917.4 L912.51 1924.51 L914.16 1919.86 L916.52 1916.8 L919.27 1910.1 L920.87 1914.47 L923.27 1919.22 L924.67 1931.91 L927.46 1933.49 L928.7 1931.35 L929.85 1922 L929.64 1910 L930.36 1906.47 L931.23 1900.65 L932.96 1892.8 L933.46 1886.39 L934.67 1893.34 L937.06 1902.36 L938.39 1904.32 L939.54 1914.12 L943.71 1916.42 L946.57 1922.76 L950.11 1927.6 L953.41 1933.96 L955.28 1929.64 L957.85 1921.99 L963.63 1918.6 L967.36 1921.64 L971.21 1923.91 L973.7 1922.24 L977.4 1917.68 L980.4 1912.51 L983.83 1905.73 L987.89 1907.64 L990.49 1917.89 L995.27 1917.67 L999.07 1923.23 L1002.09 1928.11 L1005.63 1928.76 L1008.88 1931.34 L1011.12 1938.5 L1014.15 1944.1 L1016.46 1946.9 L1017.51 1937.26 L1018.66 1936.68 L1020.17 1927.37 L1021.98 1920.64 L1022.78 1914.99 L1024.69 1911.85 L1026.75 1905.2 L1033.45 1908.26 L1036.06 1902.19 L1038.53 1898.31 L1040.51 1894.69 L1042.14 1900.8 L1044.86 1904.45 L1046.81 1910.11 L1049.14 1905.84 L1050.82 1902.12 L1054.2 1896.93 L1056.39 1896.79 L1059.02 1900.8 L1061.24 1905.45 L1063.04 1898.85 L1065.79 1892.96 L1068.15 1888.13 L1072.34 1891.08 L1075.76 1894.59 L1077.64 1895.37 L1080.02 1901.43 L1082.13 1908.16 L1082.85 1911.27 L1084.99 1919.28 L1086.32 1926.7 L1087.32 1920.38 L1089.09 1917.41 L1090.47 1910.71 L1091.64 1905.03 L1092.86 1897.39 L1094.48 1906.1 L1096.31 1909.73 L1099.19 1911.35 L1100.78 1915.98 L1102.02 1921.45 L1103.98 1925.71 L1107.1 1925.16 L1111.3 1932.43 L1116.18 1930.88 L1117.61 1927.34 L1120.39 1918.14 L1122.23 1912.17 L1124.54 1908.29 L1125.35 1912.13 L1127.27 1920.86 L1129.19 1933.09 L1130.86 1935.24 L1132.8 1928.52 L1135.51 1926.83 L1138.52 1923.38 L1142.66 1919.31 L1145.27 1912.89 L1147.41 1904.91 L1149.7 1901.41 L1151.29 1910.73 L1151.29 1913.4 L1153.19 1919.59 L1154.35 1927.03 L1158.16 1922.95 L1161.39 1922.22 L1165.06 1921.01 L1169.14 1924.31 L1171.68 1917.42 L1174.35 1913.68 L1175.93 1909.72 L1177.14 1913.5 L1177.26 1921.64 L1177.87 1929.04 L1179.85 1938.54 L1180.36 1947.81 L1181.21 1952.39 L1182.93 1947.17 L1184.65 1939.02 L1185.32 1936.03 L1188.1 1923.51 L1191.06 1923.42 L1193.08 1927.66 L1196 1938.3 L1197.96 1944.4 L1201.63 1941.8 L1204.41 1939.69 L1206.89 1930.54 L1209.45 1927.96 L1211.11 1923.53 L1211.64 1927.1 L1213.61 1936.98 L1215.12 1944.67 L1215.48 1949.92 L1217.42 1940.32 L1220.75 1938.54 L1223.67 1936.81 L1226.82 1925.99 L1229.1 1928.96 L1230.29 1937.76 L1232.68 1940.45 L1234.28 1948.86 L1236.17 1945.98 L1238.38 1935.87 L1239.3 1933.29 L1243.06 1924.88 L1246.84 1922.9 L1248.68 1928.92 L1249.61 1936.53 L1252.08 1940.55 L1253.88 1934.58 L1254.94 1931.43 L1257.47 1924.09 L1260.14 1921.98 L1263.52 1910.45 L1265.58 1916.72 L1268.55 1920.23 L1270.67 1927.39 L1274.19 1924.49 L1277.5 1917.6 L1281.39 1922.64 L1287.46 1923.39 L1289.53 1928.5 L1291.75 1936.63 L1294.48 1943.28 L1297.34 1938.11 L1301.43 1932.88 L1308.18 1931.16 L1309.2 1936.1 L1312.05 1947.47 L1312.7 1950.44 L1314.51 1956.87 L1316.85 1951.79 L1318.74 1945.03 L1320.91 1936.14 L1322.83 1932.61 L1324.92 1925.69 L1327.77 1920.12 L1329.02 1926.37 L1330.89 1930.33 L1331.51 1940.72 L1333.15 1949.17 L1334.79 1946.26 L1334.88 1935.6 L1335.14 1926.53 L1337.2 1926.09 L1338.16 1912.18 L1338.4 1904.44 L1339.64 1897.25 L1342.93 1896.26 L1346.32 1887.17 L1347.12 1890.12 L1349.82 1896.49 L1349.74 1903.18 L1351.77 1909.35 L1355.26 1902.61 L1358.98 1900.67 L1360.15 1907.1 L1362.64 1912.28 L1363.84 1921.16 L1364.45 1926.69 L1366.33 1934.34 L1367.09 1927.95 L1369.49 1918.67 L1370.15 1911.89 L1371.33 1904.79 L1372.23 1900 L1372.58 1906.22 L1373.31 1914.63 L1374.19 1921.05 L1376.17 1925.16 L1376.5 1933.87 L1377.72 1939 L1379.96 1934.1 L1382.2 1931.21 L1384.48 1921.06 L1384.91 1931.62 L1386.84 1936.59 L1387.5 1940.65 L1388.95 1947.39 L1390.82 1940.31 L1392.13 1934.17 L1392.56 1927.5 L1393.92 1921.68 L1395.47 1926.67 L1395.51 1933.33 L1396.24 1939.03 L1397.86 1946.46 L1398.95 1952.89 L1401.31 1949.5 L1402.86 1940.45 L1403.55 1940.64 L1405.86 1930.99 L1407.24 1923.83 L1409.29 1917.69 L1409.8 1919.65 L1411.49 1908 L1413.16 1918.08 L1413.83 1918.43 L1413.77 1929.63 L1415.44 1937.63 L1420.11 1943.43 L1422.82 1941.55 L1424.52 1935.32 L1426.29 1928.31 L1427.27 1934.67 L1428.22 1940.47 L1429.78 1948.55 L1431.21 1951.8 L1431.56 1940.37 L1432.81 1940.82 L1433.78 1931.63 L1434.7 1924 L1434.17 1918.53 L1435.94 1913.85 L1436.26 1903.55 L1437.16 1906.95 L1437.57 1917.84 L1437.91 1924.4 L1438.38 1932.13 L1440.55 1939.9 L1440.41 1944.21 L1440.91 1952.22 L1441.98 1958.6 L1442.69 1949.15 L1445.08 1945.33 L1445.64 1937.49 L1446.5 1929.51 L1447.87 1922.31 L1449.43 1916.96 L1452.93 1915.76 L1457.06 1918.63 L1461.06 1919.19 L1466.4 1922.92 L1468.83 1924.53 L1471.3 1929.39 L1473.96 1928.86 L1476.05 1938.85 L1477.27 1933.89 L1479.16 1929.92 L1480.16 1919.98 L1481.33 1915.42 L1482.83 1921.69 L1483.28 1927.24 L1483.9 1938.57 L1485.21 1942.3 L1486.13 1948.93 L1487.56 1955.08 L1492.65 1956.72 L1493.51 1949.81 L1493.59 1939.7 L1495.06 1937.05 L1495.31 1930.04 L1495.07 1928.27 L1496.29 1913.67 L1497.37 1906.38 L1497.51 1900.52 L1498.46 1892.66 L1498.51 1886.84 L1498.78 1890.75 L1499.44 1897.52 L1499.96 1903.56 L1501.2 1918.39 L1501.51 1916.65 L1501.78 1924.96 L1502.09 1934.98 L1503.38 1939.29 L1505.83 1936.62 L1508.73 1927.14 L1510.26 1925.75 L1514.63 1926.05 L1517.44 1932.29 L1522.32 1927.44"/>
<path d="M154 1913.43 L156.76 1913.89 L159.54 1918.73 L163.45 1924.03 L167.77 1926.98 L169.21 1918.73 L170.55 1911.96 L170.88 1905.2 L172 1895.2 L172.89 1890.71 L173.82 1898.2 L174.89 1904.72 L175.09 1913.35 L176.55 1920.11 L177.39 1922.91 L177.78 1930.42 L180.05 1925.35 L181.04 1917.09 L183.35 1912.94 L189.6 1909.42 L192.85 1912.59 L196.83 1921.67 L199.15 1924.16 L203.06 1933.21 L205.56 1925.61 L208.55 1922.68 L210.14 1916.7 L213.69 1918.28 L217.46 1912.8 L218.62 1919.52 L219.61 1928.77 L220.74 1937.02 L221.6 1940.12 L222.88 1947.4 L223.67 1956.2 L224.4 1947.54 L226.17 1941.67 L226.45 1935.49 L227.86 1926.82 L229.17 1918.07 L230.8 1913.05 L231.39 1906.96 L236.1 1912.8 L240 1915 L241.5 1880 L242.6 1850 L244 1825 L246.4 1813 L249 1800 L250.52 1789.54 L250.71 1789.41 L252.7 1781 L254.61 1777.84 L256.4 1769 L257.58 1759.15 L260.23 1751.3 L261.4 1750 L264 1737 L265 1712 L266.48 1704.94 L268.5 1700 L270.2 1683 L272.7 1666.6 L277.36 1661.08 L281.5 1664 L284 1645 L286.5 1620 L289 1591.4 L292.49 1584.33 L296.5 1587.7 L299 1570 L299.77 1566.11 L300.21 1559.86 L302.41 1552.12 L302.8 1545 L304.57 1539.89 L304.9 1532.56 L305.54 1524.22 L307 1520 L308.86 1515.25 L311.8 1507.49 L313.84 1500.74 L315.3 1495.3 L319.42 1497.48 L322.8 1502.8 L327.25 1497.76 L330.4 1495.3 L333.68 1500.1 L336.6 1506.6 L339.83 1500.11 L341.12 1495.06 L344.1 1490.3 L346.51 1484.76 L348.3 1479.03 L350.31 1472.49 L352.9 1467.7 L357.9 1470.3 L361.75 1471.58 L365.4 1472.8 L367.78 1477.45 L369.64 1487.12 L371.7 1490.3 L373.92 1481 L375.32 1475.81 L377.5 1471.63 L379.33 1464.84 L380.5 1457.7 L386.03 1467.36 L390.5 1467.7 L395.42 1470.33 L400 1472.5 L403.07 1465.19 L404.38 1457.13 L407.5 1452.5 L409.17 1458.13 L409.63 1462.6 L411.03 1473.51 L412.5 1477.5 L415.37 1469.87 L419.94 1465.53 L422.5 1457.5 L424.52 1464.19 L427.87 1469.36 L430.29 1479.75 L432.5 1485 L433.89 1476.77 L435.55 1470.17 L437.82 1459.81 L438.93 1459.05 L441.25 1450 L443.17 1456.41 L443.12 1465.14 L444.71 1471.76 L446.79 1476 L448.26 1482.34 L448.64 1488.05 L449.47 1495.94 L451.25 1502.5 L452.32 1498.06 L454.75 1487.84 L455.68 1482.95 L457.11 1478.57 L458.61 1471.91 L460.93 1463.8 L462.5 1457.5 L465.46 1467.95 L469.74 1475.61 L472.5 1477.5 L474.56 1481.63 L478.19 1484.67 L480 1495 L482.44 1490.81 L485.07 1484.8 L487.5 1480 L489.16 1489.95 L491.86 1491.89 L492.37 1496.5 L495 1505 L497.55 1497.33 L500.97 1494.38 L503.75 1487.5 L504.71 1489.95 L507.97 1502.44 L509.3 1507.34 L511.55 1512.75 L512.5 1522.5 L517.96 1521.26 L522.5 1525 L526.33 1522.51 L528.75 1518.75 L530.58 1524.46 L532.51 1532.16 L533.98 1548.81 L536.54 1544.67 L537.5 1555 L541.97 1557.07 L545 1557.5 L550 1555 L551 1565 L551.99 1558.56 L554.02 1550.08 L554.11 1544.39 L555.6 1539.19 L557.64 1532.55 L558.5 1525 L563.5 1530 L564.26 1537.78 L565.41 1545.15 L567.78 1546.1 L568.5 1555 L571.99 1556.35 L574.75 1565 L576.06 1571.62 L576.43 1581.04 L577.39 1587.63 L578.5 1592.5 L581.48 1584.6 L583.71 1580.48 L586 1572.5 L587.37 1578.88 L588.96 1583.93 L589.55 1591.03 L591 1595 L592.6 1597.28 L594.51 1610.74 L596 1615 L598.77 1609.79 L602.25 1607.5 L603.79 1616.34 L606.24 1623.79 L608.5 1627.5 L612.84 1631.28 L616 1632.5 L619.97 1637.39 L622.76 1644.59 L626 1652.5 L629.42 1658.72 L632.66 1664.96 L636 1667.5 L633.5 1670 L635.52 1671.92 L638.73 1683.14 L641 1687.5 L645.73 1686.47 L651 1685 L653.58 1693.93 L655.68 1694.46 L658.5 1702.5 L662.45 1701.66 L666 1700 L670.36 1701.84 L673.5 1707.5 L674.85 1715.09 L676.27 1718.82 L677.93 1726.03 L678.5 1730 L679.43 1723.28 L681.49 1716.45 L682.92 1712.09 L685.23 1707.37 L686 1700 L686.51 1708.5 L688.29 1715.32 L689.26 1719.77 L691 1725 L691.53 1725.37 L693.33 1731.89 L694.15 1749.15 L695.63 1750.39 L696 1757.5 L700.91 1756.5 L706 1757.5 L708 1753.04 L710.12 1748.27 L711 1742.5 L714.18 1747.03 L716 1752.5 L716.95 1758.73 L718.03 1766.96 L717.78 1769.71 L718.71 1782.32 L718.44 1785.72 L719.18 1797.06 L721.07 1799.6 L721 1807.5 L721.94 1804.13 L723.89 1797.55 L725.44 1789.91 L727.45 1787.21 L728.5 1777.5 L729.93 1781.62 L730.48 1791.45 L731.66 1795.65 L733.53 1805.41 L734.34 1811.81 L735.44 1818.53 L736 1822.5 L737.25 1820 L738.31 1806.14 L740.7 1801.2 L742.08 1798.18 L743.5 1790 L746.58 1790.61 L748.5 1797.5 L749.35 1800.38 L751.48 1808.91 L752.73 1817.13 L753.62 1823.22 L754.74 1833.35 L756 1835 L760.03 1838.2 L763.5 1837.5 L767.32 1833.57 L771 1830 L773.57 1836.07 L776.75 1845.99 L778.5 1850 L782.57 1853.43 L786 1857.5 L788.68 1867.49 L790.79 1869.82 L793.5 1877.5 L797.7 1871.87 L801 1870 L802.7 1864.58 L804.22 1855.85 L806.35 1854.41 L808.5 1845 L810.79 1854.18 L811.37 1857.28 L813.56 1867.54 L814.09 1868.12 L816 1875 L817.91 1884.09 L820.54 1887.45 L823.5 1895 L823.43 1888.37 L824.67 1878.87 L825.74 1877.75 L825.77 1865.23 L825.74 1862.18 L827.09 1848.21 L827.4 1845.47 L827.82 1836.65 L827.44 1827.3 L828.5 1822.02 L829.58 1829.44 L830.73 1835.54 L832.06 1838.4 L833.65 1849.38 L838.48 1851.72 L840.51 1846.97 L843.59 1838.96 L844.3 1848.13 L846.63 1853.53 L847.53 1858.88 L848.73 1865.56 L850.29 1874.82 L851.18 1872.94 L852.74 1861.95 L852.77 1854.57 L854.46 1846.32 L857.72 1852.56 L860.97 1851.44 L866.38 1849.69 L867.82 1856.59 L868.97 1862.22 L869.02 1872.69 L870.54 1877.22 L872.47 1874.51 L873.09 1863.54 L874.83 1860.74 L878.25 1867.55 L882.32 1869.63 L883.51 1864.61 L885.58 1857.23 L886.77 1852.77 L886.94 1844.91 L888.71 1838.78 L889.37 1848.51 L890.35 1857.88 L891.54 1858.26 L892.49 1868.33 L891.92 1876.21 L893.43 1887.19 L894.05 1890.26 L895.47 1887.47 L896.16 1877 L897.35 1869.04 L897.91 1863.99 L901.5 1857.63 L905.64 1851.9 L907.57 1858.55 L908.36 1866.21 L910.17 1871.71 L910.56 1878.89 L911.87 1887.92 L913.81 1879.85 L915.96 1873.92 L917.04 1869.44 L920.32 1872.91 L922.35 1874.96 L926.25 1868.09 L929.45 1868.15 L932.4 1870.83 L936.32 1876.97 L938.45 1881.43 L941.53 1885.69 L948.18 1889.13 L954.84 1888.84 L959.35 1890.25 L962.42 1890.69 L963.99 1900.35 L964.34 1903.33 L965.76 1907.82 L966.56 1913.25 L970.19 1909.05 L973.15 1908.5 L973.92 1904.77 L976.02 1897.09 L977.18 1886.48 L978.39 1884.16 L979.79 1892.57 L980.81 1897.54 L981.55 1909.14 L983.81 1913.34 L984.9 1915.91 L986.08 1924.23 L987.15 1913.63 L987.67 1906.72 L989.37 1908.45 L988.94 1899.63 L990.1 1888.97 L991.52 1884.8 L992.06 1878.88 L993.77 1888.4 L995.43 1895.19 L996.92 1896.66 L1000 1902.82 L1002.05 1904.73 L1003.99 1910.18 L1005.74 1920.37 L1008.79 1922.36 L1011.08 1930.56 L1011.34 1925.64 L1011.59 1915.14 L1012.35 1910.31 L1013.2 1903.04 L1014.82 1896.07 L1013.95 1890.58 L1014.65 1880.39 L1015.85 1874.86 L1016.64 1880.27 L1017.73 1887.15 L1017.79 1892.3 L1020.03 1902.81 L1020.39 1905.67 L1020.66 1907.26 L1021.67 1920.71 L1022.14 1923.9 L1023.28 1934.26 L1024.32 1935.9 L1025.53 1931.91 L1025.72 1921.08 L1027.12 1914.27 L1028.28 1910.83 L1029.8 1900.78 L1030.48 1892.51 L1030.94 1889.26 L1031.88 1881.28 L1033.13 1889.78 L1034.66 1890.19 L1035.99 1899.19 L1038.36 1902.98 L1044.53 1905.75 L1049.13 1907.19 L1051.58 1905.9 L1054.47 1899.52 L1055.73 1904.92 L1057.34 1910.77 L1058.73 1915.18 L1060.35 1923.68 L1061.76 1915.88 L1062.79 1912.43 L1064.53 1900.05 L1065.48 1894.6 L1065.92 1904.56 L1067.31 1909.01 L1067.66 1916.81 L1069.12 1924.58 L1070.66 1927.59 L1071.53 1940.41 L1071.96 1946.39 L1072.29 1939.3 L1073.16 1933.19 L1074.33 1924.64 L1074.93 1920.5 L1075.97 1911.62 L1077.43 1905.47 L1078.16 1898.86 L1081.44 1895.38 L1084.46 1893.08 L1087.91 1896.27 L1091.27 1904.47 L1094.13 1897.64 L1096.55 1893.85 L1098.42 1886.64 L1103.96 1890.53 L1109.86 1894.19 L1112.83 1896.92 L1117.28 1902.67 L1120.58 1902.04 L1123.98 1895.23 L1127.04 1901.65 L1130.17 1907.03 L1132.62 1913.5 L1134.59 1913.3 L1136.34 1921.08 L1138.87 1914.8 L1141.93 1909.45 L1143.48 1900.38 L1145.94 1897.53 L1147.48 1901.51 L1147.36 1911.28 L1149.32 1913.88 L1150.29 1924.69 L1150.69 1930.74 L1155.44 1928.03 L1157 1919.35 L1158.08 1913.65 L1160.52 1908.85 L1160.82 1901.49 L1163.1 1895.21 L1164.43 1904.51 L1165.59 1910.8 L1166.8 1917.36 L1168.59 1924.12 L1170.96 1915.05 L1171.49 1909.48 L1174.12 1907.58 L1175.38 1899.3 L1176.66 1905.12 L1178.28 1911.24 L1179.57 1914.21 L1185.52 1917.35 L1188.66 1920.36 L1190.3 1928.31 L1191.84 1919.28 L1192.21 1912.98 L1193.69 1911.4 L1194.35 1905.98 L1195.08 1913.75 L1195.81 1922.15 L1196.67 1925.25 L1198.17 1935.05 L1199.54 1935.99 L1199.74 1944.56 L1201.68 1937.81 L1201.81 1928.24 L1203.72 1928.35 L1205.97 1921.63 L1208.75 1921.82 L1212.05 1920.12 L1216.46 1917.63 L1221.44 1915.09 L1224.1 1920.93 L1226.02 1926.08 L1227.02 1934.96 L1227.54 1936.48 L1229.13 1947.19 L1229.82 1956.14 L1231.71 1961.51 L1233.92 1953.62 L1236.95 1950.35 L1239.49 1941.71 L1242.55 1936.23 L1244.06 1928.92 L1248.29 1923.29 L1252.63 1924.97 L1255.69 1925.17 L1256.79 1916.79 L1259.21 1911.6 L1260.03 1905.49 L1261.65 1911.84 L1261.68 1919.54 L1263.14 1925.56 L1263.58 1933.7 L1263.98 1938.28 L1265.61 1948.89 L1266.43 1944.42 L1267.56 1936.99 L1268.49 1931.48 L1269.45 1921.93 L1270.64 1914.85 L1270.71 1920.19 L1272.37 1929.13 L1272.65 1935.63 L1274.27 1941.28 L1273.81 1950.56 L1275.16 1957.86 L1276.21 1947.4 L1278.2 1942.74 L1280.09 1938.29 L1280.47 1933.16 L1282.12 1926.41 L1285.58 1921.55 L1289.46 1914.99 L1292.62 1919.35 L1294.46 1923.07 L1299.37 1925.29 L1303.87 1927.07 L1307.1 1927.64 L1313.03 1930.62 L1315.44 1938.35 L1315.78 1944.23 L1317.96 1951.79 L1318.88 1948.4 L1319.98 1938.34 L1322.11 1937.16 L1326.9 1935.79 L1327.35 1929.43 L1329.16 1923.87 L1330.95 1916.85 L1331.44 1906.72 L1332.7 1911.88 L1333.1 1919.16 L1332.72 1926.05 L1334.69 1930.26 L1334.38 1938.28 L1335.38 1944.78 L1336.29 1934.9 L1338.03 1928.99 L1339.45 1923.38 L1340.71 1915.52 L1343.03 1918.43 L1345.23 1922.58 L1346.73 1914.31 L1347.37 1908.23 L1349.62 1903.24 L1350.47 1897.1 L1351.93 1903.38 L1354.06 1910.9 L1356.34 1916.58 L1358.04 1910.06 L1360.24 1904.35 L1360.94 1897.04 L1362.88 1889.9 L1365.67 1896.67 L1367.37 1899.1 L1369.33 1907.88 L1370.22 1910.55 L1372.05 1921.77 L1373.6 1925.18 L1375.3 1919.21 L1376.57 1912.39 L1377.54 1900.91 L1377.87 1895.31 L1380.05 1888.86 L1380.5 1882.19 L1381.31 1892.36 L1382.27 1902.54 L1382.41 1905.95 L1383.86 1909 L1385.05 1918.17 L1385.24 1926.22 L1387.39 1920.83 L1388.85 1911.4 L1391.36 1905.17 L1393.98 1898.94 L1397.55 1897.46 L1398.41 1905.4 L1401.13 1912.76 L1402.4 1918.39 L1403.86 1920.85 L1404.84 1929.59 L1405.54 1920.24 L1406.39 1920.82 L1407.94 1910.51 L1408.71 1905.03 L1409.93 1911.78 L1411.41 1920.87 L1412.69 1924.69 L1412.43 1935.97 L1414.28 1940.25 L1415.46 1931.28 L1415.56 1922.48 L1415.88 1916.71 L1416.5 1911.82 L1417.25 1900.1 L1418.37 1897.47 L1419.94 1901.59 L1421.9 1909.42 L1422.5 1915.95 L1424.34 1921.55 L1428.73 1924.68 L1429.42 1916.88 L1431.99 1914.14 L1431.77 1908.76 L1433.78 1902.37 L1435.16 1908.85 L1437.73 1913.03 L1438.64 1918.04 L1441.79 1922.01 L1445.72 1926.65 L1445.69 1918.44 L1446.42 1917.13 L1447.87 1910.26 L1448.28 1902.76 L1449.13 1893.94 L1450.16 1886.3 L1450.52 1889.81 L1451.65 1901.06 L1452.87 1907.51 L1452.9 1915.77 L1455.18 1922.47 L1455.33 1925.33 L1456.08 1933.28 L1457.11 1940.02 L1460.07 1943.75 L1462.37 1953.27 L1462.84 1943.26 L1462.99 1941.01 L1463.82 1931.86 L1465.22 1926.1 L1464.9 1917.38 L1466.45 1909.58 L1466.34 1903.11 L1467.84 1909.85 L1469.6 1915.63 L1471.48 1923.22 L1472.35 1931.18 L1474.08 1937.02 L1476.77 1930.91 L1478.32 1923.87 L1480.86 1918.5 L1483.37 1923.7 L1485.13 1930.27 L1486.89 1931.59 L1488.22 1940.22 L1490.29 1934.7 L1492.09 1928.23 L1493.21 1920.24 L1495.86 1930.22 L1497.15 1933.6 L1500.98 1935.29 L1503.89 1941.35 L1509.89 1940.64 L1514.43 1934.72 L1517.42 1929.42 L1522.08 1924.74 L1525.15 1918.31"/>
<path d="M154 1912.41 L158.63 1908.87 L162 1910.25 L168.24 1910.77 L170.31 1915.98 L171.36 1923.51 L172.06 1928.47 L174.12 1936.31 L176.98 1934.74 L179.84 1928.26 L184.77 1931.54 L188.12 1931.54 L191.02 1926.94 L195.01 1922.27 L199.59 1927.28 L204.69 1924.53 L209.04 1920.63 L211.94 1918.52 L213.77 1926.23 L215.55 1926.37 L216.22 1936.17 L219.7 1941.45 L222.15 1947.08 L222.93 1936.61 L223.53 1930.33 L224.77 1929.18 L226.32 1918.53 L227.53 1913.94 L232.98 1913.34 L237.5 1915 L238 1880 L239 1825 L240 1800 L241.4 1775 L242.06 1769.17 L243.62 1760.88 L243.32 1754.25 L245 1750 L247.6 1737 L247.6 1712 L249.5 1700 L250.8 1683 L252.69 1678.26 L253.46 1671.25 L254.8 1663.28 L255.2 1657.8 L257 1632.8 L259.5 1595 L262 1557.6 L264.6 1520 L267.79 1511.5 L270.2 1507 L272 1470 L273.08 1460.17 L273.71 1455.32 L274.5 1450.52 L274.63 1448.09 L275.42 1437.39 L277.49 1430.94 L277.7 1425 L279.71 1430.33 L282.7 1439 L289 1440 L291.47 1433.35 L294 1426 L295.45 1420.77 L297.29 1416.34 L297.8 1407.6 L302.8 1405 L303.49 1411.8 L304.67 1419.44 L305.77 1429.99 L307.8 1431.04 L309.36 1423.4 L312.93 1417.35 L314.69 1412.48 L317.95 1418.51 L319.98 1425.97 L323.13 1427.11 L327.51 1432.44 L330.87 1423.61 L333.59 1419.85 L335.64 1426.25 L338.54 1428.98 L344.92 1430.55 L347.44 1429.96 L350.62 1424.35 L352.5 1429.88 L354.39 1434.92 L356.51 1438.69 L357.45 1446.63 L359.4 1441.14 L362.5 1432.54 L364.11 1425.24 L366.68 1421.32 L369.23 1415.41 L371.92 1419.91 L374.78 1427.1 L378.05 1430.05 L379.95 1434.27 L384.11 1432.28 L385.73 1422.85 L386.5 1421.35 L389.48 1413.22 L390.37 1405.72 L392.89 1411.05 L395.57 1419.3 L400.43 1414.25 L402.3 1420.45 L405.8 1417.8 L408.25 1428.15 L412.28 1430.1 L414.78 1440.78 L420.35 1437.79 L423.56 1435.09 L425.66 1430.85 L430.3 1434.39 L432.53 1424.84 L432.66 1421.03 L434.96 1413.36 L436.78 1422.23 L437.32 1427.7 L437.72 1431.48 L439.34 1438.99 L439.32 1434.16 L440.71 1423.75 L441.96 1422.37 L443.12 1414.84 L443.35 1406.12 L443.94 1401.02 L445.8 1407.25 L446.78 1411.72 L448.78 1416.9 L450.15 1424.78 L455.72 1421.74 L458.39 1431.43 L461.34 1432.13 L464.84 1432.48 L467.68 1424.28 L470.94 1429.76 L472.69 1431.33 L477.22 1424.4 L480.26 1421.99 L482.7 1431.1 L482.97 1436.11 L486.05 1440.27 L486.93 1444.42 L488.33 1439.42 L491.2 1428.28 L493.39 1424.35 L494.92 1426.46 L497.12 1433.62 L499.7 1438.43 L503.59 1433.43 L506.21 1428.6 L507.53 1433.54 L508.63 1446.86 L510.23 1445.02 L510.02 1452.51 L511.87 1459.89 L514.15 1453.58 L514.96 1447.49 L517.74 1436.46 L519.39 1432.22 L522.18 1437.99 L523.54 1438.91 L526.36 1439.39 L528.78 1445.1 L530.38 1437.6 L531.36 1431.09 L533.37 1424.18 L537.04 1424.39 L540.1 1428.75 L546.27 1430.89 L549.19 1426.67 L551 1420 L552.48 1426.12 L554.86 1429.4 L555.58 1438.07 L557.81 1445.12 L558.67 1453.94 L561 1460 L563.33 1455.28 L565.2 1445.27 L566.53 1443.26 L568.5 1435 L572.31 1429.79 L576 1425 L579.23 1433.68 L581.62 1439.13 L583.5 1445 L585.33 1451.76 L585.91 1455.09 L587.42 1460.69 L589.15 1471.49 L589.75 1475 L591.24 1472.97 L592.82 1462.98 L595.86 1460.66 L597.25 1452.5 L598.63 1447.02 L599.56 1438.48 L601.12 1429.02 L602.25 1425 L606.01 1420.67 L609.75 1420 L610.67 1427.03 L612.19 1428.67 L614.94 1442.09 L616 1445 L619.95 1448.87 L623.5 1452.5 L629.43 1456.44 L636 1457.5 L637.7 1464.91 L639.05 1471.02 L640.69 1475.76 L641.69 1484.87 L643.5 1490 L644.13 1483.92 L645.45 1482.92 L647.03 1472.04 L648.91 1461.84 L649.35 1458.94 L651 1451.25 L653.21 1458.84 L654.45 1469.17 L656.08 1475.3 L657.24 1479.96 L658.5 1482.5 L660.5 1474.07 L662.98 1469.02 L664.89 1464.91 L666 1457.5 L669.8 1455.27 L673.5 1453.75 L676.32 1461.05 L678.9 1468.81 L681 1470 L681.89 1475.54 L684.61 1486.18 L686.3 1488.82 L687.14 1500.13 L688.5 1502.5 L690.78 1507.56 L693.5 1512.5 L694.26 1506.54 L696.39 1499.58 L697.72 1492.52 L698.92 1485.01 L701 1477.5 L703.26 1485.62 L703.88 1488.47 L706.24 1495.15 L707.52 1507.49 L708.5 1510 L710.38 1502.01 L712.1 1496.51 L712.73 1494.62 L715.18 1485.01 L716 1480 L722.25 1480 L722.72 1495.63 L723.78 1493.44 L724.47 1497.49 L725.22 1508.21 L726.73 1512.87 L728.15 1518.22 L728.5 1527.5 L731.09 1521.47 L734.75 1515 L736.39 1519.25 L736.45 1526.8 L737.9 1534.63 L738.5 1542.5 L742.02 1547.2 L746 1550 L748.92 1557.98 L751 1562.5 L753.13 1554.88 L755.45 1547.72 L756.23 1540.76 L758.5 1540 L761.6 1546.68 L763.65 1550.47 L766 1560 L767.34 1554.3 L770.38 1547.56 L771.46 1539.34 L773.5 1535 L777.86 1536.08 L781 1540 L783.46 1544.46 L784.71 1555.56 L787.25 1560 L788.71 1569.6 L788.81 1578.09 L788.94 1582.46 L790.54 1587.85 L791 1595 L794.37 1600.1 L798.5 1600 L802.87 1607.9 L806 1610 L809.13 1615.2 L810.45 1620.54 L813.5 1630 L818.05 1627.28 L821 1627.5 L822.74 1623.6 L825.71 1611.7 L828.5 1607.5 L829.86 1613.14 L831.31 1622.65 L832.77 1625.88 L833.88 1629.28 L836 1637.5 L840.14 1643.66 L843.5 1645 L847.12 1643.55 L851 1637.5 L854.91 1642.06 L858.5 1642.5 L862.85 1639.56 L867.25 1632.5 L868.54 1638.6 L869 1646.47 L870.5 1653.07 L871.73 1662.34 L873.5 1665 L876.14 1662.48 L878.48 1652.09 L881.59 1647.44 L883.5 1642.5 L885.13 1648.33 L885.2 1655.21 L886.51 1661.17 L888.5 1667.5 L889.17 1673.46 L890.03 1679.23 L891.45 1688.34 L892.23 1693.58 L892.25 1700 L893.91 1703.52 L894.45 1712.64 L894.5 1719.95 L896 1725 L897.03 1716.02 L898.87 1713.59 L901 1705 L901.4 1710.88 L903.75 1721.37 L904.84 1727.17 L905.8 1732.03 L906.01 1738.38 L907 1746.47 L908.5 1755 L909.57 1747.67 L910.08 1744.91 L911.95 1734.11 L912.4 1727.27 L913.5 1720 L915.99 1712.02 L917.26 1704.99 L918.85 1698.43 L921 1692.5 L922.14 1696.79 L925.13 1705.32 L926 1710 L926.96 1717.16 L928.23 1721.32 L929.2 1729.77 L931 1737.5 L935.28 1730.9 L938.5 1725 L940.47 1728.65 L943.5 1735 L943.92 1738.96 L945.94 1748.94 L946.21 1759.4 L947.62 1759.79 L948.1 1772.03 L949.75 1777.5 L950.62 1774.36 L953.07 1764.91 L953.87 1758.31 L956 1752.5 L961 1750 L962 1752.5 L963.09 1754.53 L965.48 1766.12 L966.32 1773.24 L967.51 1776.71 L969.5 1782.5 L971.66 1789.98 L974.33 1793.41 L977 1800 L978.84 1794.46 L980.27 1787.18 L981.95 1781.97 L983.25 1775 L989.5 1772.5 L990.73 1780.23 L992.24 1784.66 L994.26 1788.01 L995.39 1805.63 L997 1807.5 L1000.03 1802.4 L1003.25 1797.5 L1006.12 1803.14 L1009.31 1810.72 L1012 1817.5 L1014.21 1808.37 L1016.4 1805.44 L1017.82 1797.04 L1019.5 1792.5 L1021.44 1795.15 L1022.56 1811.38 L1023.52 1811.7 L1025.75 1820 L1027.38 1828.93 L1027.64 1837.25 L1028.7 1838.97 L1028.57 1848.15 L1029.31 1854.34 L1030.75 1860 L1037 1862.5 L1039.18 1857.55 L1040.39 1854.9 L1042 1845 L1042.9 1832.99 L1043.48 1831.86 L1045.02 1823.35 L1046.55 1818.23 L1047 1810 L1048.91 1805.39 L1049.69 1800.75 L1052 1792.5 L1052.92 1796.43 L1054.11 1808.56 L1054.56 1815.78 L1055.15 1820.12 L1055.44 1823.6 L1057 1832.5 L1058.32 1841.76 L1058.55 1846.14 L1059.86 1849.02 L1061.22 1860.15 L1062 1865 L1066.76 1863 L1072 1860 L1075.05 1858.78 L1079.5 1850 L1081.3 1844.56 L1082.08 1836.94 L1084.5 1835 L1085.08 1839.08 L1087.21 1844.98 L1089.03 1853.79 L1090.23 1858.79 L1090.75 1867.5 L1092.21 1862.93 L1093.74 1856.41 L1096.48 1847.36 L1098.25 1842.5 L1100.51 1848.03 L1102.37 1852.95 L1104.5 1860 L1105.98 1863.31 L1106.79 1876.33 L1107.77 1882.68 L1108.01 1886.15 L1109.5 1895 L1112.88 1894.43 L1117 1890 L1118.83 1895.33 L1122.44 1903.88 L1124.5 1907.5 L1129.03 1903.89 L1132 1895 L1134.65 1897.42 L1135.77 1907.11 L1137.98 1913.39 L1139.5 1920 L1140.75 1911 L1140.28 1907.9 L1142.34 1895.93 L1141.91 1891.89 L1143.66 1885.71 L1143.82 1875.58 L1144.5 1868.95 L1146.72 1872.81 L1150.17 1875.52 L1152.18 1883.2 L1159.52 1882.74 L1162.04 1881.35 L1166.1 1891.56 L1168.89 1897.77 L1173.2 1904.27 L1174.84 1897.56 L1175.76 1893.17 L1178.26 1887.02 L1178.96 1880.53 L1180.78 1889.34 L1180.81 1896.24 L1182.87 1900.07 L1183.91 1906.03 L1184.75 1902.44 L1187.22 1891.7 L1188.65 1889.33 L1193.16 1894.83 L1194.78 1903.4 L1197.22 1909.22 L1203.84 1911.68 L1206.93 1906.45 L1208.51 1904.99 L1210.72 1898.17 L1213.32 1903.47 L1216.27 1910.01 L1217.99 1918.57 L1219.7 1911.88 L1220.71 1906.77 L1221.3 1899.46 L1221.38 1889 L1222.81 1881.5 L1224.24 1888.63 L1223.93 1896.27 L1226.27 1897.26 L1225.76 1907.32 L1226.66 1912.5 L1228.17 1919.72 L1230.39 1916.11 L1232.28 1910.72 L1233.14 1897.92 L1234.84 1896.16 L1236.42 1905.34 L1238.35 1909.27 L1238.21 1914.9 L1240.94 1924.16 L1241.67 1931.11 L1242.74 1923.24 L1242.82 1916.57 L1243.28 1911.58 L1244.66 1903.67 L1246.03 1894.39 L1246.89 1891.05 L1247.43 1882.76 L1247.74 1877.76 L1248.91 1885.22 L1249.98 1892.36 L1249.58 1902.94 L1250.76 1902.58 L1251.72 1914.4 L1253.02 1921.17 L1253.45 1927.87 L1254.04 1935.13 L1253.9 1929.43 L1255.54 1920.77 L1256.17 1914.47 L1255.89 1908 L1256.51 1901.98 L1257.3 1889.71 L1257.43 1885.95 L1258.34 1878.11 L1259.01 1886.09 L1259.56 1890.73 L1260.3 1895.74 L1261.24 1904.79 L1262.41 1912.09 L1263.15 1919.14 L1263.06 1923.72 L1264.31 1928.92 L1267.16 1933.62 L1269.2 1941.54 L1270.19 1934.23 L1270.67 1927.81 L1271.84 1914.78 L1271.7 1913.89 L1272.59 1903.21 L1273.16 1894.73 L1273.54 1890.65 L1279.86 1888.3 L1281.13 1894.9 L1282.42 1900.66 L1282.95 1906.17 L1283.49 1916.25 L1284.3 1924.58 L1285.45 1929.49 L1286.8 1936.3 L1287.62 1944.26 L1288.32 1937.46 L1290.18 1932.26 L1290.2 1925.72 L1291.89 1916.98 L1294.58 1924.92 L1298.62 1928.17 L1303.74 1933.49 L1305.12 1926.46 L1305.92 1921.47 L1308.73 1915.59 L1309.47 1906.63 L1311.57 1910.5 L1311.82 1920.18 L1314.21 1925.83 L1314.58 1932.05 L1316.47 1936.6 L1317.75 1931.55 L1317.99 1921.54 L1319.82 1919.67 L1319.76 1912.15 L1321.6 1903.12 L1321.84 1896.65 L1326.26 1906.69 L1329.56 1907.82 L1331.26 1914.72 L1332.87 1922.84 L1335.55 1925.88 L1337.17 1929.75 L1337.92 1939.02 L1340.05 1941.02 L1341.31 1934.36 L1342.33 1931.2 L1342.4 1920.4 L1344.19 1918.74 L1344.85 1909.3 L1346.33 1918.53 L1346.31 1923.87 L1348.01 1928.59 L1347.7 1937.64 L1349.01 1944.48 L1349.95 1951.8 L1350.78 1945.76 L1351.82 1936.96 L1352.43 1933.88 L1353.17 1929.65 L1352.57 1918.81 L1353.48 1911.17 L1354.32 1906.86 L1357.13 1915.87 L1359.03 1918.18 L1361.96 1925.12 L1363.87 1930.25 L1368.35 1925.94 L1371.24 1919.04 L1371.74 1910.87 L1373.1 1905.25 L1372.71 1902.01 L1374.57 1889.56 L1374.78 1887.29 L1375.77 1881.58 L1376.62 1887.21 L1377.09 1892.61 L1377.34 1900.68 L1377.88 1912.81 L1378.52 1914.68 L1378.62 1925.12 L1379.36 1931.63 L1378.46 1940.31 L1378.97 1942.41 L1380.58 1951.71 L1380.38 1959.08 L1380.91 1951.05 L1382.23 1943.97 L1383.29 1937.46 L1383.21 1936.51 L1384.84 1921.99 L1384.96 1920.02 L1385.84 1913.42 L1387.69 1910.53 L1389.87 1902.46 L1392.23 1909.31 L1393.41 1914.02 L1396.16 1918.36 L1397.37 1924.38 L1400.26 1935 L1401.4 1941.45 L1403.42 1946.54 L1405.93 1938.94 L1406.72 1934.11 L1409.24 1929.94 L1410.55 1922.85 L1412.66 1930.77 L1414.46 1933.79 L1415.91 1927.33 L1415.97 1923.25 L1417.04 1916.45 L1418.56 1911.14 L1420.35 1922.41 L1421.37 1926.04 L1420.89 1926.49 L1423.34 1938.06 L1423.6 1942.42 L1425.99 1940.15 L1428.24 1934.01 L1431.59 1937.73 L1434.15 1943.99 L1434.42 1936.78 L1436.43 1929.99 L1436.69 1927.25 L1437.57 1918.93 L1438.98 1914.48 L1439.48 1905.87 L1440.89 1899.4 L1441.68 1903.51 L1442.89 1910.84 L1443.82 1919.33 L1445.34 1929.84 L1445.55 1936.19 L1446.61 1943.1 L1448 1947.53 L1449.46 1940.22 L1449.85 1934.4 L1451.85 1929.93 L1452.21 1921.92 L1456.31 1915.01 L1458.83 1913.63 L1461.56 1919.77 L1462.72 1923.98 L1468.07 1918.98 L1471.6 1918.9 L1475.12 1927.55 L1478.35 1932.31 L1480.33 1939.43 L1482.37 1950.39 L1483.39 1954.31 L1484.44 1956.09 L1485.42 1962.74 L1488.18 1956.63 L1492.19 1950.81 L1498.17 1951.7 L1500.92 1953.94 L1502.39 1958.03 L1507.92 1961.34 L1509.76 1956.83 L1510.27 1944.65 L1512.14 1935.62 L1513.33 1933.03 L1515.01 1939.58 L1516.23 1944.74 L1518.11 1948.01 L1519.21 1956.55 L1520.94 1964.23 L1522.85 1955.38 L1526.02 1951.48"/>
<path d="M154 1925.22 L155.36 1920.36 L156.82 1914.4 L159.17 1905.85 L161.25 1910.68 L162.81 1916.88 L164.15 1923.37 L167.4 1920.9 L169.69 1912.16 L172.52 1905.45 L176.04 1911.11 L178.29 1911.47 L182.26 1914.9 L185.28 1921.37 L185.64 1914.1 L187.39 1903.91 L187.77 1900.49 L188.17 1895.4 L189.82 1884.9 L190.42 1879.2 L192.87 1881.79 L194.06 1886.81 L196.6 1892.81 L198.39 1900.6 L199.54 1907.37 L201.43 1916.84 L203.7 1921.12 L205.08 1929.39 L207.61 1924.14 L208.83 1918.77 L209.9 1909.25 L212.32 1904.2 L214.65 1909.16 L218.36 1913.25 L219.96 1906 L223.08 1898.76 L225.21 1892.29 L226.53 1898.3 L228.49 1904.73 L229.52 1911.16 L231.5 1915 L232.5 1880 L233 1850 L232.5 1800 L232.6 1762 L233.7 1712 L236.4 1700 L237 1670 L237.6 1645 L240.1 1607.7 L241 1560 L240.8 1520 L242.21 1516.06 L244.01 1505.75 L245.51 1502.48 L246.4 1495.3 L250.06 1489.14 L252.7 1482.8 L253.46 1472.73 L253.85 1472.45 L254.99 1465.03 L255.8 1457.7 L258.3 1432.7 L259.07 1424.38 L260.85 1424.59 L262.7 1417.6 L264.63 1409.85 L267.54 1402.26 L269 1401.3 L271.44 1396.17 L274.6 1392.6 L278.83 1388.07 L282.7 1383.8 L286.75 1387.68 L290.3 1391.3 L293.42 1394.78 L296.5 1400 L299.52 1404.86 L302.8 1406.3 L306.76 1413.57 L310.3 1413.9 L313.51 1407.09 L315.3 1401.72 L317.56 1408.37 L320.99 1412.7 L323.03 1417.88 L326.37 1412.67 L331 1406.68 L333.77 1405.21 L335.61 1418.34 L337.94 1422.37 L341.19 1428.51 L345.41 1426.58 L347.61 1415.17 L351.38 1413.63 L353.49 1420.67 L354.04 1428.76 L355.24 1433.38 L356.9 1437.52 L357.98 1445.5 L359.44 1440.18 L360.25 1431.72 L359.94 1427.59 L361.58 1421.04 L362.29 1411.31 L364.06 1402.84 L364.68 1397.23 L365.17 1390.39 L366.06 1393.61 L367.15 1402.26 L368.42 1411.82 L368.76 1417.14 L370.51 1421.6 L371.36 1429.82 L372.65 1436.2 L373.07 1433.11 L374.76 1420.24 L377.05 1414.03 L377.16 1404.48 L378.99 1401.65 L379.88 1392.53 L381.29 1396.16 L383.46 1407.42 L385.12 1417.48 L385.11 1422.38 L387.34 1427.76 L393.91 1424.96 L396.58 1422.2 L398.1 1418.75 L401.06 1408.13 L403.64 1415.55 L405.32 1424.96 L406.37 1429.74 L408.26 1435.08 L410.12 1429.06 L412.23 1428.51 L414.46 1420.3 L415.46 1414.26 L417.4 1407 L419.07 1400.14 L423.21 1400.86 L425.41 1402.34 L427.5 1411.38 L429.34 1417.93 L430.55 1427.05 L436.1 1423.35 L438.95 1428.28 L441.39 1435.76 L443.71 1440.06 L444.33 1435.43 L445.08 1423.26 L445.95 1418.97 L446.17 1415.91 L447.56 1410.67 L447.5 1399.32 L448.54 1390.41 L449.42 1393.4 L450.5 1403.33 L451.59 1409.98 L453.8 1419.04 L455.06 1421.82 L455.45 1428.77 L457.59 1418.44 L461.17 1419.28 L463.42 1412.85 L466.43 1409.82 L468.87 1414.82 L472.84 1414.33 L475.8 1409.04 L477.36 1406.25 L477.82 1413.24 L480.2 1414.83 L480.45 1426 L481.87 1428.5 L483.23 1422.05 L484.54 1415.04 L486.87 1408.3 L488.31 1400.51 L491.42 1407.09 L494.15 1412.06 L496.29 1416.66 L498.6 1409.74 L501.73 1405.23 L506.32 1408.2 L510.47 1404.9 L513.6 1403.09 L515.24 1410.67 L516.88 1415.9 L517.7 1422.23 L519.63 1426.6 L521.13 1421.92 L523.46 1415.39 L526.44 1407.68 L528.66 1415.1 L530.5 1417.21 L531.58 1426.25 L534.57 1421.46 L537.28 1412.83 L539 1405.25 L543.5 1406.07 L546.73 1400.15 L549.26 1409.35 L551.43 1411.6 L553.14 1415.68 L558.81 1412.6 L562.88 1415.13 L566.63 1415.91 L569.19 1421.33 L573.32 1426.3 L575.67 1428.49 L577.85 1432.34 L579.8 1425.54 L580.53 1421.8 L581.71 1415.95 L583.5 1407.5 L586.79 1404.69 L591 1400 L592.02 1409.59 L593.91 1413.76 L596 1417.5 L598.78 1425 L601 1427.5 L602.76 1424 L604.75 1420 L611 1417.5 L614.19 1412.03 L616.16 1408.74 L618.5 1400 L622.78 1399.91 L626 1397.5 L628.03 1403.76 L631 1407.5 L632.4 1414.04 L633.9 1423.95 L635.88 1427.92 L637.36 1435 L638.5 1442.5 L639.51 1437.75 L640.37 1428.64 L642.5 1422.32 L643.47 1417.65 L643.6 1412.72 L645.34 1397.21 L646 1392.5 L651 1395 L652.55 1401.34 L653.59 1405 L656 1412.5 L658.23 1406.34 L659.34 1399.8 L660.82 1398.8 L662.25 1388.75 L664.55 1393.88 L665.96 1396.04 L668.5 1405 L675.34 1406.7 L681 1408.75 L686.39 1408.17 L691 1415 L692.24 1411.85 L695 1401.24 L696 1395 L701 1390 L702.22 1394.66 L704.92 1406.75 L706.01 1409.83 L707.25 1415 L711.69 1417.08 L716 1416.25 L717.71 1421.64 L721 1430 L724.18 1426.8 L726 1418.75 L730.05 1422.42 L733.5 1423.75 L737.85 1427.81 L741 1433.75 L744.3 1434.34 L748.5 1435 L751.22 1431.97 L754.75 1422.5 L755.22 1415.7 L757.47 1408.61 L757.87 1398.11 L759.75 1396.25 L760.87 1402 L761.78 1411.94 L763.46 1410.97 L764.75 1420 L765.88 1426.77 L765.81 1433.94 L767.15 1440.51 L767.18 1445.8 L768.5 1453.75 L770.26 1446.54 L773.07 1441.63 L774.75 1432.5 L778.91 1433.01 L783.5 1433.75 L787.91 1432.42 L791 1437.5 L792.39 1433.97 L793.57 1425.88 L794.27 1421.2 L796 1415 L799.07 1423.21 L801 1427.5 L802.48 1431.98 L802.39 1440.96 L803.61 1440.18 L804.63 1455.08 L804.94 1457.53 L806 1466.25 L808.61 1459.97 L809.24 1456.22 L811.45 1448.62 L813.5 1445 L816.51 1450 L821 1455 L822.12 1449.93 L824.21 1442.36 L825.57 1435.3 L827.05 1425.84 L828.5 1420 L833.5 1415 L836.87 1420.55 L841 1427.5 L845.18 1427.58 L848.5 1425 L850.02 1431.48 L853.48 1440.36 L855.8 1444.66 L857.25 1451.25 L858.9 1445.03 L859.49 1437.37 L862.29 1429.97 L863.69 1424.47 L864.75 1417.5 L865.51 1425.01 L868.26 1433.4 L869.46 1433.97 L871 1442.5 L874.37 1444.37 L878.5 1450 L880.14 1455.72 L882.71 1462.64 L884.79 1469.7 L886 1477.5 L888.15 1471.55 L891 1467.5 L893.22 1470.42 L894.4 1478.23 L897.25 1482.5 L898.64 1474.86 L901.15 1469.52 L902.38 1463.49 L903.5 1455 L906.29 1460.47 L908.85 1466.72 L911 1472.5 L914.48 1469.21 L917.25 1460 L920.32 1465.05 L922.71 1472.86 L926 1480 L929.46 1475.21 L933.5 1475 L936.78 1480 L941 1485 L944.04 1484.56 L948.5 1480 L950.78 1485.72 L952.47 1492.41 L953.5 1497.5 L956.82 1492.46 L961 1485 L962 1487.5 L962.04 1495.13 L963.99 1504.66 L963.98 1505.64 L965.69 1515.3 L966.46 1522.96 L967 1530 L968.91 1522.4 L972.36 1513.4 L974.5 1510 L977 1512.5 L979.24 1519.88 L981.19 1524.46 L983.27 1529 L984.5 1537.5 L987.27 1526.76 L989.25 1524.63 L992 1517.5 L995.5 1510.5 L999.5 1513.75 L1004.5 1517.5 L1005.05 1520.31 L1006.25 1532.54 L1007.59 1538.18 L1008.63 1541.19 L1009.84 1550.39 L1010.75 1555 L1013.33 1547.52 L1017 1542.5 L1022 1542.5 L1023.27 1548.29 L1024.49 1552.13 L1026.23 1560.39 L1027 1565 L1028.08 1565.38 L1029.79 1576.03 L1031.37 1581.94 L1033.45 1586.65 L1034.5 1595 L1036.62 1589.25 L1037.46 1585.59 L1038.93 1576.07 L1040.15 1569.91 L1042 1565 L1043.16 1569.49 L1044.8 1578.25 L1047.4 1582.34 L1048.25 1590 L1050.73 1592.45 L1054.5 1597.5 L1055.96 1601.71 L1056.27 1608.79 L1058.42 1617.83 L1059.77 1620.78 L1060.75 1630 L1067 1632.5 L1069.89 1636.26 L1073.25 1642.5 L1074.92 1649.5 L1076.14 1651.62 L1077 1660 L1082 1657.5 L1082.5 1650.18 L1084.42 1646.92 L1084.19 1638.19 L1085.82 1633.69 L1086.52 1623.57 L1087 1617.5 L1092 1620 L1092.57 1629.49 L1094.68 1634.01 L1094.37 1639.58 L1095.64 1651.3 L1096.42 1653.85 L1098.25 1662.5 L1101.95 1668.01 L1104.5 1667.5 L1102 1670 L1103.38 1673.18 L1106.17 1681.29 L1107.84 1689.05 L1109.5 1697.5 L1115.39 1698.84 L1122 1700 L1124.6 1693.05 L1126.6 1691.57 L1129.5 1682.5 L1133.45 1684.57 L1137 1685 L1138.87 1693.87 L1140.13 1691.85 L1140.17 1704.32 L1142 1707.5 L1145.58 1708.27 L1149.5 1710 L1149.41 1718.69 L1150.53 1720.11 L1151.29 1727.6 L1152.68 1734.61 L1153.17 1739.59 L1153.02 1749.6 L1153.53 1753.42 L1154.5 1762.5 L1158.1 1758.14 L1161.51 1753.5 L1164.5 1750 L1167.73 1760.19 L1169.38 1761.11 L1172 1765 L1176.44 1759.35 L1179.5 1757.5 L1183.5 1764.01 L1187 1767.5 L1190.43 1761.58 L1194.5 1755 L1194.99 1765.2 L1195.24 1767.82 L1197.13 1780.53 L1196.91 1780.03 L1197.73 1789.82 L1199.52 1800.18 L1200.21 1803.48 L1200.35 1811.03 L1201.85 1821.3 L1202 1825 L1203.63 1822.81 L1205.15 1817.88 L1206.05 1805.3 L1206.39 1799.65 L1208.7 1785.4 L1209.5 1785 L1210.05 1789.4 L1211.42 1797.05 L1213.14 1808.5 L1214.15 1808.97 L1214.69 1817.19 L1215.31 1822.87 L1217 1830 L1218.94 1820.21 L1221.34 1818.34 L1222 1811.66 L1224.5 1802.5 L1230.75 1800 L1231.25 1804.91 L1233.13 1810.7 L1232.99 1817.93 L1234 1827.37 L1235.5 1831 L1236.56 1840.48 L1237 1845 L1237.99 1848.54 L1240.19 1852.88 L1242 1860 L1244.82 1856.38 L1248.18 1852.68 L1250.75 1847.5 L1252.34 1853.76 L1254.71 1861.48 L1256.69 1865.87 L1258.25 1872.5 L1262.53 1869.69 L1267 1867.5 L1270.61 1871.63 L1274.5 1872.5 L1278.1 1873.25 L1282 1867.5 L1284.05 1871.87 L1285.59 1879.57 L1285.79 1884.29 L1287.38 1893.2 L1289.5 1897.5 L1291.47 1889.83 L1293.66 1890.49 L1294.02 1880.59 L1296.83 1876.57 L1298.25 1867.5 L1300.01 1871.05 L1303.32 1886.73 L1304.6 1886.41 L1307 1895 L1309.13 1883.79 L1310.62 1886.41 L1312.91 1876.96 L1314.5 1872.5 L1318.89 1876 L1322 1877.5 L1324.43 1871.6 L1328.25 1865 L1330.81 1875.1 L1333.86 1877.71 L1337 1885 L1340.91 1880.14 L1344.5 1880 L1345.5 1887.6 L1347.68 1893.32 L1348.43 1899.24 L1350.2 1905.8 L1350.03 1914.09 L1352 1920 L1353.56 1911.58 L1355.29 1909 L1356.4 1898.19 L1358.11 1892.15 L1359.5 1887.5 L1363.28 1885.43 L1367 1882.5 L1369.78 1890.45 L1372 1895 L1375.33 1890.57 L1377.25 1885 L1379.26 1891.28 L1382.12 1897.8 L1383.5 1902.5 L1387.43 1895.19 L1391 1890 L1393.65 1896.95 L1398.38 1902.56 L1401 1910 L1401.77 1915.73 L1402.38 1924.82 L1403.77 1929.56 L1404.95 1936.45 L1406 1942.37 L1407.53 1935.97 L1407.38 1926.54 L1408.91 1922.67 L1410.58 1918.65 L1410.48 1907.24 L1411.86 1902.6 L1412.26 1900.59 L1413.94 1890.03 L1414.42 1893.96 L1416.38 1898.42 L1416.42 1910.1 L1416.94 1917.26 L1418.58 1921.47 L1424.38 1924.27 L1431.52 1925.6 L1433.58 1920.7 L1436.66 1914.05 L1439.9 1911.39 L1442.74 1920.87 L1443.72 1923.94 L1446.17 1929.02 L1447.88 1922.94 L1447.99 1916.63 L1448.98 1909.88 L1450.1 1897.95 L1450.74 1894.02 L1451.76 1887.97 L1453.51 1893.57 L1453.53 1898.81 L1455.09 1907.58 L1457.19 1919.56 L1458.13 1921.45 L1458.24 1927.67 L1460.23 1935.55 L1461.04 1928.21 L1463.98 1924.91 L1464.03 1917.34 L1466.16 1913.08 L1467.11 1917.59 L1469.58 1925.83 L1470.51 1928.31 L1471.38 1933.48 L1473.45 1942.23 L1477.18 1935.17 L1479.68 1932.47 L1482.78 1928.4 L1484.84 1923.33 L1487.46 1928.63 L1488.07 1936.87 L1490.67 1943.3 L1492.23 1939.67 L1493.34 1927.92 L1494.18 1921.85 L1494.83 1917.14 L1497.13 1914.21 L1498 1905 L1500.5 1880 L1503 1862 L1505 1858 L1507.5 1866 L1510 1900 L1512 1950 L1514 1972 L1517 1940 L1519 1912 L1524 1910 L1528.5 1912 L1528.5 1966"/>
</g>
</g>
<g id="labels" fill="#000" font-family="&quot;Liberation Serif&quot;, &quot;DejaVu Serif&quot;, serif">
<text transform="translate(14.76 93) skewX(-11) scale(0.8034 1)" font-size="128" font-style="italic">A</text>
<text transform="translate(8.02 1360) scale(1.0289 1)" font-size="124" font-style="italic">B</text>
<text transform="translate(870.03 93.3) scale(1.0053 1)" font-size="123.5">Rod</text>
<text transform="translate(769.58 1361.7) scale(1.0050 1)" font-size="123.5">Rod</text>
<text transform="translate(240.39 349.5) scale(0.9849 1)" font-size="111.5">100</text>
<text transform="translate(294.17 649) scale(1.0346 1)" font-size="111.5">50</text>
<text transform="translate(333.98 939.5) scale(1.0340 1)" font-size="111.5">0</text>
<text transform="translate(612.56 1012.5) scale(0.9890 1)" font-size="111.5">0.5</text>
<text transform="translate(1054.45 1013) scale(1.1054 1)" font-size="111.5">2</text>
<text transform="translate(1452.82 1012.5) scale(0.9285 1)" font-size="111.5">8</text>
<text transform="translate(417.22 1120) scale(0.9960 1)" font-size="112.5">GTP concentration<tspan font-size="117.6" dy="6.2">[</tspan><tspan dy="-6.2">m</tspan>M<tspan font-size="117.6" dy="6.2">]</tspan></text>
<text transform="translate(1244.96 1582.5) scale(0.9951 1)" font-size="112.5">2<tspan font-size="117.6" dy="6.2">[</tspan><tspan dy="-6.2">p</tspan>A<tspan font-size="117.6" dy="6.2">]</tspan></text>
<text transform="translate(175.06 2102.5) scale(1.0129 1)" font-size="111.5">0</text>
<text transform="translate(410.9 2102.5) scale(0.9814 1)" font-size="111.5">0.5</text>
<text transform="translate(711.1 2103) scale(0.7378 1)" font-size="111.5">1</text>
<text transform="translate(930.78 2102.5) scale(0.9452 1)" font-size="111.5">1.5</text>
<text transform="translate(1228.38 2103) scale(1.1200 1)" font-size="111.5">2</text>
<text transform="translate(1455.74 2102.5) scale(0.9877 1)" font-size="111.5">2.5</text>
<text transform="translate(759.04 2247) scale(0.9916 1)" font-size="113">Time<tspan font-size="118.1" dy="6.2">[</tspan><tspan dy="-6.2">s</tspan><tspan font-size="118.1" dy="6.2">]</tspan></text>
<text transform="translate(204.5 900.16) rotate(-90) scale(0.9962 1)" font-size="112.5">Dark current<tspan font-size="117.6" dy="6.2">[</tspan><tspan dy="-6.2">%</tspan><tspan font-size="117.6" dy="6.2">]</tspan></text>
</g>
</svg></body></html>
